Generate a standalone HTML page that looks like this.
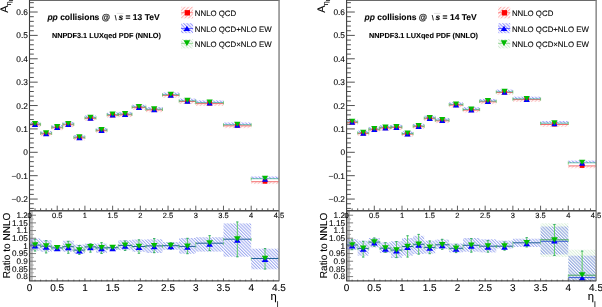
<!DOCTYPE html>
<html><head><meta charset="utf-8"><style>
html,body{margin:0;padding:0;background:#fff;width:602px;height:307px;overflow:hidden}
svg{display:block;font-family:"Liberation Sans",sans-serif}
text{stroke:#000;stroke-width:0.1px;text-rendering:geometricPrecision}
</style></head><body>
<svg width="602" height="307" viewBox="0 0 602 307">
<defs><clipPath id="cu29"><rect x="29.5" y="0.5" width="249.4" height="209.3"/></clipPath><clipPath id="cl29"><rect x="29.5" y="209.8" width="249.4" height="71.39999999999998"/></clipPath><clipPath id="cu346"><rect x="346.6" y="0.5" width="249.4" height="209.3"/></clipPath><clipPath id="cl346"><rect x="346.6" y="209.8" width="249.4" height="71.39999999999998"/></clipPath>
<pattern id="hr" width="2.6" height="2.6" patternUnits="userSpaceOnUse" patternTransform="rotate(45)"><line x1="0.6" y1="0" x2="0.6" y2="2.6" stroke="#f88" stroke-width="0.7"/></pattern>
<pattern id="hr2" width="2.6" height="2.6" patternUnits="userSpaceOnUse" patternTransform="rotate(45)"><line x1="0.6" y1="0" x2="0.6" y2="2.6" stroke="#f9a0a0" stroke-width="0.6"/></pattern>
<pattern id="hb" width="2.4" height="2.4" patternUnits="userSpaceOnUse" patternTransform="rotate(-45)"><line x1="0.6" y1="0" x2="0.6" y2="2.4" stroke="#77f" stroke-width="0.8"/></pattern>
<pattern id="hg" width="2.4" height="2.4" patternUnits="userSpaceOnUse" patternTransform="rotate(-45)"><line x1="0.6" y1="0" x2="0.6" y2="2.4" stroke="#bdb" stroke-width="0.7"/></pattern>
<pattern id="hb2" width="2.25" height="2.25" patternUnits="userSpaceOnUse" patternTransform="rotate(-45)"><line x1="0.6" y1="0" x2="0.6" y2="2.25" stroke="#6476e8" stroke-width="0.65"/></pattern>
<pattern id="hg2" width="2.25" height="2.25" patternUnits="userSpaceOnUse" patternTransform="rotate(-45)"><line x1="0.6" y1="0" x2="0.6" y2="2.25" stroke="#bfe6bf" stroke-width="0.6"/></pattern>
</defs>
<rect width="602" height="307" fill="#fff"/>
<g opacity="0.999">
<g clip-path="url(#cu29)">
<rect x="29.50" y="124.90" width="11.08" height="2.3" fill="url(#hr2)"/>
<rect x="29.50" y="121.90" width="11.08" height="2.4" fill="url(#hb)"/>
<line x1="29.50" y1="124.80" x2="40.58" y2="124.80" stroke="#e33" stroke-width="0.7"/>
<line x1="29.50" y1="124.10" x2="40.58" y2="124.10" stroke="#3a8" stroke-width="0.7"/>
<line x1="29.50" y1="122.70" x2="29.50" y2="125.90" stroke="#5b5" stroke-width="0.7"/>
<line x1="40.58" y1="122.70" x2="40.58" y2="125.90" stroke="#5b5" stroke-width="0.7"/>
<rect x="32.74" y="122.20" width="4.60" height="4.60" fill="#f00"/>
<path d="M31.89,127.10L38.19,127.10L35.04,122.10Z" fill="#00f"/>
<path d="M31.89,121.10L38.19,121.10L35.04,126.10Z" fill="#0b0"/>
<rect x="40.58" y="134.00" width="11.08" height="2.3" fill="url(#hr2)"/>
<rect x="40.58" y="131.00" width="11.08" height="2.4" fill="url(#hb)"/>
<line x1="40.58" y1="133.90" x2="51.67" y2="133.90" stroke="#e33" stroke-width="0.7"/>
<line x1="40.58" y1="133.20" x2="51.67" y2="133.20" stroke="#3a8" stroke-width="0.7"/>
<line x1="40.58" y1="131.80" x2="40.58" y2="135.00" stroke="#5b5" stroke-width="0.7"/>
<line x1="51.67" y1="131.80" x2="51.67" y2="135.00" stroke="#5b5" stroke-width="0.7"/>
<rect x="43.83" y="131.30" width="4.60" height="4.60" fill="#f00"/>
<path d="M42.98,136.20L49.28,136.20L46.13,131.20Z" fill="#00f"/>
<path d="M42.98,130.20L49.28,130.20L46.13,135.20Z" fill="#0b0"/>
<rect x="51.67" y="127.90" width="11.08" height="2.3" fill="url(#hr2)"/>
<rect x="51.67" y="124.90" width="11.08" height="2.4" fill="url(#hb)"/>
<line x1="51.67" y1="127.80" x2="62.75" y2="127.80" stroke="#e33" stroke-width="0.7"/>
<line x1="51.67" y1="127.10" x2="62.75" y2="127.10" stroke="#3a8" stroke-width="0.7"/>
<line x1="51.67" y1="125.70" x2="51.67" y2="128.90" stroke="#5b5" stroke-width="0.7"/>
<line x1="62.75" y1="125.70" x2="62.75" y2="128.90" stroke="#5b5" stroke-width="0.7"/>
<rect x="54.91" y="125.20" width="4.60" height="4.60" fill="#f00"/>
<path d="M54.06,130.10L60.36,130.10L57.21,125.10Z" fill="#00f"/>
<path d="M54.06,124.10L60.36,124.10L57.21,129.10Z" fill="#0b0"/>
<rect x="62.75" y="124.90" width="11.08" height="2.3" fill="url(#hr2)"/>
<rect x="62.75" y="121.90" width="11.08" height="2.4" fill="url(#hb)"/>
<line x1="62.75" y1="124.80" x2="73.84" y2="124.80" stroke="#e33" stroke-width="0.7"/>
<line x1="62.75" y1="124.10" x2="73.84" y2="124.10" stroke="#3a8" stroke-width="0.7"/>
<line x1="62.75" y1="122.70" x2="62.75" y2="125.90" stroke="#5b5" stroke-width="0.7"/>
<line x1="73.84" y1="122.70" x2="73.84" y2="125.90" stroke="#5b5" stroke-width="0.7"/>
<rect x="66.00" y="122.20" width="4.60" height="4.60" fill="#f00"/>
<path d="M65.15,127.10L71.45,127.10L68.30,122.10Z" fill="#00f"/>
<path d="M65.15,121.10L71.45,121.10L68.30,126.10Z" fill="#0b0"/>
<rect x="73.84" y="138.00" width="11.08" height="2.3" fill="url(#hr2)"/>
<rect x="73.84" y="135.00" width="11.08" height="2.4" fill="url(#hb)"/>
<line x1="73.84" y1="137.90" x2="84.92" y2="137.90" stroke="#e33" stroke-width="0.7"/>
<line x1="73.84" y1="137.20" x2="84.92" y2="137.20" stroke="#3a8" stroke-width="0.7"/>
<line x1="73.84" y1="135.80" x2="73.84" y2="139.00" stroke="#5b5" stroke-width="0.7"/>
<line x1="84.92" y1="135.80" x2="84.92" y2="139.00" stroke="#5b5" stroke-width="0.7"/>
<rect x="77.08" y="135.30" width="4.60" height="4.60" fill="#f00"/>
<path d="M76.23,140.20L82.53,140.20L79.38,135.20Z" fill="#00f"/>
<path d="M76.23,134.20L82.53,134.20L79.38,139.20Z" fill="#0b0"/>
<rect x="84.92" y="118.50" width="11.08" height="2.3" fill="url(#hr2)"/>
<rect x="84.92" y="115.50" width="11.08" height="2.4" fill="url(#hb)"/>
<line x1="84.92" y1="118.40" x2="96.01" y2="118.40" stroke="#e33" stroke-width="0.7"/>
<line x1="84.92" y1="117.70" x2="96.01" y2="117.70" stroke="#3a8" stroke-width="0.7"/>
<line x1="84.92" y1="116.30" x2="84.92" y2="119.50" stroke="#5b5" stroke-width="0.7"/>
<line x1="96.01" y1="116.30" x2="96.01" y2="119.50" stroke="#5b5" stroke-width="0.7"/>
<rect x="88.16" y="115.80" width="4.60" height="4.60" fill="#f00"/>
<path d="M87.31,120.70L93.61,120.70L90.46,115.70Z" fill="#00f"/>
<path d="M87.31,114.70L93.61,114.70L90.46,119.70Z" fill="#0b0"/>
<rect x="96.01" y="130.80" width="11.08" height="2.3" fill="url(#hr2)"/>
<rect x="96.01" y="127.80" width="11.08" height="2.4" fill="url(#hb)"/>
<line x1="96.01" y1="130.70" x2="107.09" y2="130.70" stroke="#e33" stroke-width="0.7"/>
<line x1="96.01" y1="130.00" x2="107.09" y2="130.00" stroke="#3a8" stroke-width="0.7"/>
<line x1="96.01" y1="128.60" x2="96.01" y2="131.80" stroke="#5b5" stroke-width="0.7"/>
<line x1="107.09" y1="128.60" x2="107.09" y2="131.80" stroke="#5b5" stroke-width="0.7"/>
<rect x="99.25" y="128.10" width="4.60" height="4.60" fill="#f00"/>
<path d="M98.40,133.00L104.70,133.00L101.55,128.00Z" fill="#00f"/>
<path d="M98.40,127.00L104.70,127.00L101.55,132.00Z" fill="#0b0"/>
<rect x="107.09" y="115.40" width="11.08" height="2.3" fill="url(#hr2)"/>
<rect x="107.09" y="112.40" width="11.08" height="2.4" fill="url(#hb)"/>
<line x1="107.09" y1="115.30" x2="118.18" y2="115.30" stroke="#e33" stroke-width="0.7"/>
<line x1="107.09" y1="114.60" x2="118.18" y2="114.60" stroke="#3a8" stroke-width="0.7"/>
<line x1="107.09" y1="113.20" x2="107.09" y2="116.40" stroke="#5b5" stroke-width="0.7"/>
<line x1="118.18" y1="113.20" x2="118.18" y2="116.40" stroke="#5b5" stroke-width="0.7"/>
<rect x="110.33" y="112.70" width="4.60" height="4.60" fill="#f00"/>
<path d="M109.48,117.60L115.78,117.60L112.63,112.60Z" fill="#00f"/>
<path d="M109.48,111.60L115.78,111.60L112.63,116.60Z" fill="#0b0"/>
<rect x="118.18" y="114.90" width="13.86" height="2.3" fill="url(#hr2)"/>
<rect x="118.18" y="111.90" width="13.86" height="2.4" fill="url(#hb)"/>
<line x1="118.18" y1="114.80" x2="132.03" y2="114.80" stroke="#e33" stroke-width="0.7"/>
<line x1="118.18" y1="114.10" x2="132.03" y2="114.10" stroke="#3a8" stroke-width="0.7"/>
<line x1="118.18" y1="112.70" x2="118.18" y2="115.90" stroke="#5b5" stroke-width="0.7"/>
<line x1="132.03" y1="112.70" x2="132.03" y2="115.90" stroke="#5b5" stroke-width="0.7"/>
<rect x="122.80" y="112.20" width="4.60" height="4.60" fill="#f00"/>
<path d="M121.95,117.10L128.25,117.10L125.10,112.10Z" fill="#00f"/>
<path d="M121.95,111.10L128.25,111.10L125.10,116.10Z" fill="#0b0"/>
<rect x="132.03" y="107.70" width="13.86" height="2.3" fill="url(#hr2)"/>
<rect x="132.03" y="104.70" width="13.86" height="2.4" fill="url(#hb)"/>
<line x1="132.03" y1="107.60" x2="145.89" y2="107.60" stroke="#e33" stroke-width="0.7"/>
<line x1="132.03" y1="106.90" x2="145.89" y2="106.90" stroke="#3a8" stroke-width="0.7"/>
<line x1="132.03" y1="105.50" x2="132.03" y2="108.70" stroke="#5b5" stroke-width="0.7"/>
<line x1="145.89" y1="105.50" x2="145.89" y2="108.70" stroke="#5b5" stroke-width="0.7"/>
<rect x="136.66" y="105.00" width="4.60" height="4.60" fill="#f00"/>
<path d="M135.81,109.90L142.11,109.90L138.96,104.90Z" fill="#00f"/>
<path d="M135.81,103.90L142.11,103.90L138.96,108.90Z" fill="#0b0"/>
<rect x="145.89" y="110.00" width="16.63" height="2.3" fill="url(#hr2)"/>
<rect x="145.89" y="107.00" width="16.63" height="2.4" fill="url(#hb)"/>
<line x1="145.89" y1="109.90" x2="162.51" y2="109.90" stroke="#e33" stroke-width="0.7"/>
<line x1="145.89" y1="109.20" x2="162.51" y2="109.20" stroke="#3a8" stroke-width="0.7"/>
<line x1="145.89" y1="107.80" x2="145.89" y2="111.00" stroke="#5b5" stroke-width="0.7"/>
<line x1="162.51" y1="107.80" x2="162.51" y2="111.00" stroke="#5b5" stroke-width="0.7"/>
<rect x="151.90" y="107.30" width="4.60" height="4.60" fill="#f00"/>
<path d="M151.05,112.20L157.35,112.20L154.20,107.20Z" fill="#00f"/>
<path d="M151.05,106.20L157.35,106.20L154.20,111.20Z" fill="#0b0"/>
<rect x="162.51" y="95.50" width="16.63" height="2.3" fill="url(#hr2)"/>
<rect x="162.51" y="92.50" width="16.63" height="2.4" fill="url(#hb)"/>
<line x1="162.51" y1="95.40" x2="179.14" y2="95.40" stroke="#e33" stroke-width="0.7"/>
<line x1="162.51" y1="94.70" x2="179.14" y2="94.70" stroke="#3a8" stroke-width="0.7"/>
<line x1="162.51" y1="93.30" x2="162.51" y2="96.50" stroke="#5b5" stroke-width="0.7"/>
<line x1="179.14" y1="93.30" x2="179.14" y2="96.50" stroke="#5b5" stroke-width="0.7"/>
<rect x="168.53" y="92.80" width="4.60" height="4.60" fill="#f00"/>
<path d="M167.68,97.70L173.98,97.70L170.83,92.70Z" fill="#00f"/>
<path d="M167.68,91.70L173.98,91.70L170.83,96.70Z" fill="#0b0"/>
<rect x="179.14" y="101.60" width="16.63" height="2.3" fill="url(#hr2)"/>
<rect x="179.14" y="98.60" width="16.63" height="2.4" fill="url(#hb)"/>
<line x1="179.14" y1="101.50" x2="195.77" y2="101.50" stroke="#e33" stroke-width="0.7"/>
<line x1="179.14" y1="100.80" x2="195.77" y2="100.80" stroke="#3a8" stroke-width="0.7"/>
<line x1="179.14" y1="99.40" x2="179.14" y2="102.60" stroke="#5b5" stroke-width="0.7"/>
<line x1="195.77" y1="99.40" x2="195.77" y2="102.60" stroke="#5b5" stroke-width="0.7"/>
<rect x="185.15" y="98.90" width="4.60" height="4.60" fill="#f00"/>
<path d="M184.30,103.80L190.60,103.80L187.45,98.80Z" fill="#00f"/>
<path d="M184.30,97.80L190.60,97.80L187.45,102.80Z" fill="#0b0"/>
<rect x="195.77" y="103.70" width="27.71" height="2.3" fill="url(#hr2)"/>
<rect x="195.77" y="100.40" width="27.71" height="2.4" fill="url(#hb)"/>
<line x1="195.77" y1="103.60" x2="223.48" y2="103.60" stroke="#e33" stroke-width="0.7"/>
<line x1="195.77" y1="102.60" x2="223.48" y2="102.60" stroke="#3a8" stroke-width="0.7"/>
<line x1="195.77" y1="101.20" x2="195.77" y2="104.40" stroke="#5b5" stroke-width="0.7"/>
<line x1="223.48" y1="101.20" x2="223.48" y2="104.40" stroke="#5b5" stroke-width="0.7"/>
<rect x="207.32" y="101.00" width="4.60" height="4.60" fill="#f00"/>
<path d="M206.47,105.60L212.77,105.60L209.62,100.60Z" fill="#00f"/>
<path d="M206.47,99.60L212.77,99.60L209.62,104.60Z" fill="#0b0"/>
<rect x="223.48" y="125.90" width="27.71" height="2.3" fill="url(#hr2)"/>
<rect x="223.48" y="122.50" width="27.71" height="2.4" fill="url(#hb)"/>
<line x1="223.48" y1="125.80" x2="251.19" y2="125.80" stroke="#e33" stroke-width="0.7"/>
<line x1="223.48" y1="124.70" x2="251.19" y2="124.70" stroke="#3a8" stroke-width="0.7"/>
<line x1="223.48" y1="123.30" x2="223.48" y2="126.50" stroke="#5b5" stroke-width="0.7"/>
<line x1="251.19" y1="123.30" x2="251.19" y2="126.50" stroke="#5b5" stroke-width="0.7"/>
<rect x="235.03" y="123.20" width="4.60" height="4.60" fill="#f00"/>
<path d="M234.18,127.70L240.48,127.70L237.33,122.70Z" fill="#00f"/>
<path d="M234.18,121.70L240.48,121.70L237.33,126.70Z" fill="#0b0"/>
<rect x="251.19" y="181.80" width="27.71" height="2.3" fill="url(#hr2)"/>
<rect x="251.19" y="176.50" width="27.71" height="2.4" fill="url(#hb)"/>
<line x1="251.19" y1="181.70" x2="278.90" y2="181.70" stroke="#e33" stroke-width="0.7"/>
<line x1="251.19" y1="178.70" x2="278.90" y2="178.70" stroke="#3a8" stroke-width="0.7"/>
<line x1="251.19" y1="177.30" x2="251.19" y2="180.50" stroke="#5b5" stroke-width="0.7"/>
<line x1="278.90" y1="177.30" x2="278.90" y2="180.50" stroke="#5b5" stroke-width="0.7"/>
<rect x="262.74" y="179.10" width="4.60" height="4.60" fill="#f00"/>
<path d="M261.89,181.70L268.19,181.70L265.04,176.70Z" fill="#00f"/>
<path d="M261.89,175.70L268.19,175.70L265.04,180.70Z" fill="#0b0"/>
</g>
<rect x="29.5" y="210.7" width="3.3" height="70.5" fill="#bcbcbc"/>
<g clip-path="url(#cl29)">
<rect x="29.50" y="238.50" width="11.08" height="12.20" fill="url(#hb2)"/>
<line x1="29.50" y1="245.10" x2="40.58" y2="245.10" stroke="#22609a" stroke-width="1.0"/>
<line x1="29.50" y1="243.90" x2="29.50" y2="246.90" stroke="#5c5" stroke-width="0.6"/>
<line x1="40.58" y1="243.90" x2="40.58" y2="246.90" stroke="#5c5" stroke-width="0.6"/>
<line x1="35.04" y1="238.90" x2="35.04" y2="251.30" stroke="#4c4" stroke-width="0.8"/>
<line x1="33.84" y1="239.20" x2="36.24" y2="239.20" stroke="#3a6" stroke-width="1"/>
<line x1="33.84" y1="251.00" x2="36.24" y2="251.00" stroke="#3a6" stroke-width="1"/>
<path d="M31.64,248.55L38.44,248.55L35.04,243.35Z" fill="#00f"/>
<path d="M31.64,242.25L38.44,242.25L35.04,247.45Z" fill="#0b0"/>
<rect x="40.58" y="240.20" width="11.08" height="11.60" fill="url(#hb2)"/>
<line x1="40.58" y1="246.20" x2="51.67" y2="246.20" stroke="#22609a" stroke-width="1.0"/>
<line x1="40.58" y1="245.00" x2="40.58" y2="248.00" stroke="#5c5" stroke-width="0.6"/>
<line x1="51.67" y1="245.00" x2="51.67" y2="248.00" stroke="#5c5" stroke-width="0.6"/>
<line x1="46.13" y1="240.40" x2="46.13" y2="253.20" stroke="#4c4" stroke-width="0.8"/>
<line x1="44.93" y1="240.70" x2="47.33" y2="240.70" stroke="#3a6" stroke-width="1"/>
<line x1="44.93" y1="252.90" x2="47.33" y2="252.90" stroke="#3a6" stroke-width="1"/>
<path d="M42.73,249.65L49.53,249.65L46.13,244.45Z" fill="#00f"/>
<path d="M42.73,243.35L49.53,243.35L46.13,248.55Z" fill="#0b0"/>
<rect x="51.67" y="245.70" width="11.08" height="5.00" fill="url(#hb2)"/>
<line x1="51.67" y1="247.90" x2="62.75" y2="247.90" stroke="#22609a" stroke-width="1.0"/>
<line x1="51.67" y1="246.70" x2="51.67" y2="249.70" stroke="#5c5" stroke-width="0.6"/>
<line x1="62.75" y1="246.70" x2="62.75" y2="249.70" stroke="#5c5" stroke-width="0.6"/>
<line x1="57.21" y1="245.70" x2="57.21" y2="250.70" stroke="#4c4" stroke-width="0.8"/>
<line x1="56.01" y1="246.00" x2="58.41" y2="246.00" stroke="#3a6" stroke-width="1"/>
<line x1="56.01" y1="250.40" x2="58.41" y2="250.40" stroke="#3a6" stroke-width="1"/>
<path d="M53.81,251.35L60.61,251.35L57.21,246.15Z" fill="#00f"/>
<path d="M53.81,245.05L60.61,245.05L57.21,250.25Z" fill="#0b0"/>
<rect x="62.75" y="240.70" width="11.08" height="11.10" fill="url(#hb2)"/>
<line x1="62.75" y1="246.70" x2="73.84" y2="246.70" stroke="#22609a" stroke-width="1.0"/>
<line x1="62.75" y1="245.50" x2="62.75" y2="248.50" stroke="#5c5" stroke-width="0.6"/>
<line x1="73.84" y1="245.50" x2="73.84" y2="248.50" stroke="#5c5" stroke-width="0.6"/>
<line x1="68.30" y1="241.00" x2="68.30" y2="253.50" stroke="#4c4" stroke-width="0.8"/>
<line x1="67.10" y1="241.30" x2="69.50" y2="241.30" stroke="#3a6" stroke-width="1"/>
<line x1="67.10" y1="253.20" x2="69.50" y2="253.20" stroke="#3a6" stroke-width="1"/>
<path d="M64.90,250.15L71.70,250.15L68.30,244.95Z" fill="#00f"/>
<path d="M64.90,243.85L71.70,243.85L68.30,249.05Z" fill="#0b0"/>
<rect x="73.84" y="244.60" width="11.08" height="9.40" fill="url(#hb2)"/>
<line x1="73.84" y1="250.10" x2="84.92" y2="250.10" stroke="#22609a" stroke-width="1.0"/>
<line x1="73.84" y1="248.90" x2="73.84" y2="251.90" stroke="#5c5" stroke-width="0.6"/>
<line x1="84.92" y1="248.90" x2="84.92" y2="251.90" stroke="#5c5" stroke-width="0.6"/>
<line x1="79.38" y1="245.20" x2="79.38" y2="254.60" stroke="#4c4" stroke-width="0.8"/>
<line x1="78.18" y1="245.50" x2="80.58" y2="245.50" stroke="#3a6" stroke-width="1"/>
<line x1="78.18" y1="254.30" x2="80.58" y2="254.30" stroke="#3a6" stroke-width="1"/>
<path d="M75.98,253.55L82.78,253.55L79.38,248.35Z" fill="#00f"/>
<path d="M75.98,247.25L82.78,247.25L79.38,252.45Z" fill="#0b0"/>
<rect x="84.92" y="243.50" width="11.08" height="6.50" fill="url(#hb2)"/>
<line x1="84.92" y1="246.90" x2="96.01" y2="246.90" stroke="#22609a" stroke-width="1.0"/>
<line x1="84.92" y1="245.70" x2="84.92" y2="248.70" stroke="#5c5" stroke-width="0.6"/>
<line x1="96.01" y1="245.70" x2="96.01" y2="248.70" stroke="#5c5" stroke-width="0.6"/>
<line x1="90.46" y1="243.50" x2="90.46" y2="252.40" stroke="#4c4" stroke-width="0.8"/>
<line x1="89.26" y1="243.80" x2="91.66" y2="243.80" stroke="#3a6" stroke-width="1"/>
<line x1="89.26" y1="252.10" x2="91.66" y2="252.10" stroke="#3a6" stroke-width="1"/>
<path d="M87.06,250.35L93.86,250.35L90.46,245.15Z" fill="#00f"/>
<path d="M87.06,244.05L93.86,244.05L90.46,249.25Z" fill="#0b0"/>
<rect x="96.01" y="243.50" width="11.08" height="9.40" fill="url(#hb2)"/>
<line x1="96.01" y1="247.90" x2="107.09" y2="247.90" stroke="#22609a" stroke-width="1.0"/>
<line x1="96.01" y1="246.70" x2="96.01" y2="249.70" stroke="#5c5" stroke-width="0.6"/>
<line x1="107.09" y1="246.70" x2="107.09" y2="249.70" stroke="#5c5" stroke-width="0.6"/>
<line x1="101.55" y1="242.40" x2="101.55" y2="253.70" stroke="#4c4" stroke-width="0.8"/>
<line x1="100.35" y1="242.70" x2="102.75" y2="242.70" stroke="#3a6" stroke-width="1"/>
<line x1="100.35" y1="253.40" x2="102.75" y2="253.40" stroke="#3a6" stroke-width="1"/>
<path d="M98.15,251.35L104.95,251.35L101.55,246.15Z" fill="#00f"/>
<path d="M98.15,245.05L104.95,245.05L101.55,250.25Z" fill="#0b0"/>
<rect x="107.09" y="246.00" width="11.08" height="4.00" fill="url(#hb2)"/>
<line x1="107.09" y1="247.70" x2="118.18" y2="247.70" stroke="#22609a" stroke-width="1.0"/>
<line x1="107.09" y1="246.50" x2="107.09" y2="249.50" stroke="#5c5" stroke-width="0.6"/>
<line x1="118.18" y1="246.50" x2="118.18" y2="249.50" stroke="#5c5" stroke-width="0.6"/>
<line x1="112.63" y1="246.00" x2="112.63" y2="250.00" stroke="#4c4" stroke-width="0.8"/>
<line x1="111.43" y1="246.30" x2="113.83" y2="246.30" stroke="#3a6" stroke-width="1"/>
<line x1="111.43" y1="249.70" x2="113.83" y2="249.70" stroke="#3a6" stroke-width="1"/>
<path d="M109.23,251.15L116.03,251.15L112.63,245.95Z" fill="#00f"/>
<path d="M109.23,244.85L116.03,244.85L112.63,250.05Z" fill="#0b0"/>
<rect x="118.18" y="240.20" width="13.86" height="9.90" fill="url(#hb2)"/>
<line x1="118.18" y1="245.40" x2="132.03" y2="245.40" stroke="#22609a" stroke-width="1.0"/>
<line x1="118.18" y1="244.20" x2="118.18" y2="247.20" stroke="#5c5" stroke-width="0.6"/>
<line x1="132.03" y1="244.20" x2="132.03" y2="247.20" stroke="#5c5" stroke-width="0.6"/>
<line x1="125.10" y1="240.70" x2="125.10" y2="250.70" stroke="#4c4" stroke-width="0.8"/>
<line x1="123.90" y1="241.00" x2="126.30" y2="241.00" stroke="#3a6" stroke-width="1"/>
<line x1="123.90" y1="250.40" x2="126.30" y2="250.40" stroke="#3a6" stroke-width="1"/>
<path d="M121.70,248.85L128.50,248.85L125.10,243.65Z" fill="#00f"/>
<path d="M121.70,242.55L128.50,242.55L125.10,247.75Z" fill="#0b0"/>
<rect x="132.03" y="239.60" width="13.86" height="12.20" fill="url(#hb2)"/>
<line x1="132.03" y1="246.50" x2="145.89" y2="246.50" stroke="#22609a" stroke-width="1.0"/>
<line x1="132.03" y1="245.30" x2="132.03" y2="248.30" stroke="#5c5" stroke-width="0.6"/>
<line x1="145.89" y1="245.30" x2="145.89" y2="248.30" stroke="#5c5" stroke-width="0.6"/>
<line x1="138.96" y1="239.60" x2="138.96" y2="253.50" stroke="#4c4" stroke-width="0.8"/>
<line x1="137.76" y1="239.90" x2="140.16" y2="239.90" stroke="#3a6" stroke-width="1"/>
<line x1="137.76" y1="253.20" x2="140.16" y2="253.20" stroke="#3a6" stroke-width="1"/>
<path d="M135.56,249.95L142.36,249.95L138.96,244.75Z" fill="#00f"/>
<path d="M135.56,243.65L142.36,243.65L138.96,248.85Z" fill="#0b0"/>
<rect x="145.89" y="239.30" width="16.63" height="13.70" fill="url(#hb2)"/>
<line x1="145.89" y1="245.90" x2="162.51" y2="245.90" stroke="#22609a" stroke-width="1.0"/>
<line x1="145.89" y1="244.70" x2="145.89" y2="247.70" stroke="#5c5" stroke-width="0.6"/>
<line x1="162.51" y1="244.70" x2="162.51" y2="247.70" stroke="#5c5" stroke-width="0.6"/>
<line x1="154.20" y1="238.30" x2="154.20" y2="253.00" stroke="#4c4" stroke-width="0.8"/>
<line x1="153.00" y1="238.60" x2="155.40" y2="238.60" stroke="#3a6" stroke-width="1"/>
<line x1="153.00" y1="252.70" x2="155.40" y2="252.70" stroke="#3a6" stroke-width="1"/>
<path d="M150.80,249.35L157.60,249.35L154.20,244.15Z" fill="#00f"/>
<path d="M150.80,243.05L157.60,243.05L154.20,248.25Z" fill="#0b0"/>
<rect x="162.51" y="242.00" width="16.63" height="7.80" fill="url(#hb2)"/>
<line x1="162.51" y1="245.70" x2="179.14" y2="245.70" stroke="#22609a" stroke-width="1.0"/>
<line x1="162.51" y1="244.50" x2="162.51" y2="247.50" stroke="#5c5" stroke-width="0.6"/>
<line x1="179.14" y1="244.50" x2="179.14" y2="247.50" stroke="#5c5" stroke-width="0.6"/>
<line x1="170.83" y1="242.50" x2="170.83" y2="249.50" stroke="#4c4" stroke-width="0.8"/>
<line x1="169.63" y1="242.80" x2="172.03" y2="242.80" stroke="#3a6" stroke-width="1"/>
<line x1="169.63" y1="249.20" x2="172.03" y2="249.20" stroke="#3a6" stroke-width="1"/>
<path d="M167.43,249.15L174.23,249.15L170.83,243.95Z" fill="#00f"/>
<path d="M167.43,242.85L174.23,242.85L170.83,248.05Z" fill="#0b0"/>
<rect x="179.14" y="238.00" width="16.63" height="15.70" fill="url(#hb2)"/>
<line x1="179.14" y1="246.40" x2="195.77" y2="246.40" stroke="#22609a" stroke-width="1.0"/>
<line x1="179.14" y1="245.20" x2="179.14" y2="248.20" stroke="#5c5" stroke-width="0.6"/>
<line x1="195.77" y1="245.20" x2="195.77" y2="248.20" stroke="#5c5" stroke-width="0.6"/>
<line x1="187.45" y1="238.00" x2="187.45" y2="254.00" stroke="#4c4" stroke-width="0.8"/>
<line x1="186.25" y1="238.30" x2="188.65" y2="238.30" stroke="#3a6" stroke-width="1"/>
<line x1="186.25" y1="253.70" x2="188.65" y2="253.70" stroke="#3a6" stroke-width="1"/>
<path d="M184.05,249.85L190.85,249.85L187.45,244.65Z" fill="#00f"/>
<path d="M184.05,243.55L190.85,243.55L187.45,248.75Z" fill="#0b0"/>
<rect x="195.77" y="237.20" width="27.71" height="14.40" fill="url(#hb2)"/>
<line x1="195.77" y1="243.20" x2="223.48" y2="243.20" stroke="#22609a" stroke-width="1.0"/>
<line x1="195.77" y1="242.00" x2="195.77" y2="245.00" stroke="#5c5" stroke-width="0.6"/>
<line x1="223.48" y1="242.00" x2="223.48" y2="245.00" stroke="#5c5" stroke-width="0.6"/>
<line x1="209.62" y1="235.40" x2="209.62" y2="250.90" stroke="#4c4" stroke-width="0.8"/>
<line x1="208.42" y1="235.70" x2="210.82" y2="235.70" stroke="#3a6" stroke-width="1"/>
<line x1="208.42" y1="250.60" x2="210.82" y2="250.60" stroke="#3a6" stroke-width="1"/>
<path d="M206.22,246.65L213.02,246.65L209.62,241.45Z" fill="#00f"/>
<path d="M206.22,240.35L213.02,240.35L209.62,245.55Z" fill="#0b0"/>
<rect x="223.48" y="223.40" width="27.71" height="33.30" fill="url(#hb2)"/>
<line x1="223.48" y1="239.20" x2="251.19" y2="239.20" stroke="#22609a" stroke-width="1.0"/>
<line x1="223.48" y1="238.00" x2="223.48" y2="241.00" stroke="#5c5" stroke-width="0.6"/>
<line x1="251.19" y1="238.00" x2="251.19" y2="241.00" stroke="#5c5" stroke-width="0.6"/>
<line x1="237.33" y1="221.70" x2="237.33" y2="257.10" stroke="#4c4" stroke-width="0.8"/>
<line x1="236.13" y1="222.00" x2="238.53" y2="222.00" stroke="#3a6" stroke-width="1"/>
<line x1="236.13" y1="256.80" x2="238.53" y2="256.80" stroke="#3a6" stroke-width="1"/>
<path d="M233.93,242.65L240.73,242.65L237.33,237.45Z" fill="#00f"/>
<path d="M233.93,236.35L240.73,236.35L237.33,241.55Z" fill="#0b0"/>
<rect x="251.19" y="248.70" width="27.71" height="20.60" fill="url(#hb2)"/>
<line x1="251.19" y1="258.50" x2="278.90" y2="258.50" stroke="#22609a" stroke-width="1.0"/>
<line x1="251.19" y1="257.30" x2="251.19" y2="260.30" stroke="#5c5" stroke-width="0.6"/>
<line x1="278.90" y1="257.30" x2="278.90" y2="260.30" stroke="#5c5" stroke-width="0.6"/>
<line x1="265.04" y1="248.30" x2="265.04" y2="269.30" stroke="#4c4" stroke-width="0.8"/>
<line x1="263.84" y1="248.60" x2="266.24" y2="248.60" stroke="#3a6" stroke-width="1"/>
<line x1="263.84" y1="269.00" x2="266.24" y2="269.00" stroke="#3a6" stroke-width="1"/>
<path d="M261.64,261.95L268.44,261.95L265.04,256.75Z" fill="#00f"/>
<path d="M261.64,255.65L268.44,255.65L265.04,260.85Z" fill="#0b0"/>
</g>
<rect x="29.0" y="0" width="250.4" height="1" fill="#6a6a6a"/>
<line x1="29.5" y1="0" x2="29.5" y2="281.2" stroke="#3c3c3c" stroke-width="1.1"/>
<line x1="279.04999999999995" y1="0" x2="279.04999999999995" y2="281.2" stroke="#808080" stroke-width="1.4"/>
<line x1="29.5" y1="210.7" x2="278.9" y2="210.7" stroke="#4a4a4a" stroke-width="1.6"/>
<line x1="29.5" y1="280.9" x2="278.9" y2="280.9" stroke="#4a4a4a" stroke-width="1.2"/>
<line x1="29.5" y1="208.41" x2="33.8" y2="208.41" stroke="#4a4a4a" stroke-width="0.95"/>
<line x1="29.5" y1="203.74" x2="33.8" y2="203.74" stroke="#4a4a4a" stroke-width="0.95"/>
<line x1="29.5" y1="199.06" x2="37.7" y2="199.06" stroke="#4a4a4a" stroke-width="0.95"/>
<line x1="29.5" y1="194.38" x2="33.8" y2="194.38" stroke="#4a4a4a" stroke-width="0.95"/>
<line x1="29.5" y1="189.71" x2="33.8" y2="189.71" stroke="#4a4a4a" stroke-width="0.95"/>
<line x1="29.5" y1="185.03" x2="33.8" y2="185.03" stroke="#4a4a4a" stroke-width="0.95"/>
<line x1="29.5" y1="180.36" x2="33.8" y2="180.36" stroke="#4a4a4a" stroke-width="0.95"/>
<line x1="29.5" y1="175.68" x2="37.7" y2="175.68" stroke="#4a4a4a" stroke-width="0.95"/>
<line x1="29.5" y1="171.00" x2="33.8" y2="171.00" stroke="#4a4a4a" stroke-width="0.95"/>
<line x1="29.5" y1="166.33" x2="33.8" y2="166.33" stroke="#4a4a4a" stroke-width="0.95"/>
<line x1="29.5" y1="161.65" x2="33.8" y2="161.65" stroke="#4a4a4a" stroke-width="0.95"/>
<line x1="29.5" y1="156.98" x2="33.8" y2="156.98" stroke="#4a4a4a" stroke-width="0.95"/>
<line x1="29.5" y1="152.30" x2="37.7" y2="152.30" stroke="#4a4a4a" stroke-width="0.95"/>
<line x1="29.5" y1="147.62" x2="33.8" y2="147.62" stroke="#4a4a4a" stroke-width="0.95"/>
<line x1="29.5" y1="142.95" x2="33.8" y2="142.95" stroke="#4a4a4a" stroke-width="0.95"/>
<line x1="29.5" y1="138.27" x2="33.8" y2="138.27" stroke="#4a4a4a" stroke-width="0.95"/>
<line x1="29.5" y1="133.60" x2="33.8" y2="133.60" stroke="#4a4a4a" stroke-width="0.95"/>
<line x1="29.5" y1="128.92" x2="37.7" y2="128.92" stroke="#4a4a4a" stroke-width="0.95"/>
<line x1="29.5" y1="124.24" x2="33.8" y2="124.24" stroke="#4a4a4a" stroke-width="0.95"/>
<line x1="29.5" y1="119.57" x2="33.8" y2="119.57" stroke="#4a4a4a" stroke-width="0.95"/>
<line x1="29.5" y1="114.89" x2="33.8" y2="114.89" stroke="#4a4a4a" stroke-width="0.95"/>
<line x1="29.5" y1="110.22" x2="33.8" y2="110.22" stroke="#4a4a4a" stroke-width="0.95"/>
<line x1="29.5" y1="105.54" x2="37.7" y2="105.54" stroke="#4a4a4a" stroke-width="0.95"/>
<line x1="29.5" y1="100.86" x2="33.8" y2="100.86" stroke="#4a4a4a" stroke-width="0.95"/>
<line x1="29.5" y1="96.19" x2="33.8" y2="96.19" stroke="#4a4a4a" stroke-width="0.95"/>
<line x1="29.5" y1="91.51" x2="33.8" y2="91.51" stroke="#4a4a4a" stroke-width="0.95"/>
<line x1="29.5" y1="86.84" x2="33.8" y2="86.84" stroke="#4a4a4a" stroke-width="0.95"/>
<line x1="29.5" y1="82.16" x2="37.7" y2="82.16" stroke="#4a4a4a" stroke-width="0.95"/>
<line x1="29.5" y1="77.48" x2="33.8" y2="77.48" stroke="#4a4a4a" stroke-width="0.95"/>
<line x1="29.5" y1="72.81" x2="33.8" y2="72.81" stroke="#4a4a4a" stroke-width="0.95"/>
<line x1="29.5" y1="68.13" x2="33.8" y2="68.13" stroke="#4a4a4a" stroke-width="0.95"/>
<line x1="29.5" y1="63.46" x2="33.8" y2="63.46" stroke="#4a4a4a" stroke-width="0.95"/>
<line x1="29.5" y1="58.78" x2="37.7" y2="58.78" stroke="#4a4a4a" stroke-width="0.95"/>
<line x1="29.5" y1="54.10" x2="33.8" y2="54.10" stroke="#4a4a4a" stroke-width="0.95"/>
<line x1="29.5" y1="49.43" x2="33.8" y2="49.43" stroke="#4a4a4a" stroke-width="0.95"/>
<line x1="29.5" y1="44.75" x2="33.8" y2="44.75" stroke="#4a4a4a" stroke-width="0.95"/>
<line x1="29.5" y1="40.08" x2="33.8" y2="40.08" stroke="#4a4a4a" stroke-width="0.95"/>
<line x1="29.5" y1="35.40" x2="37.7" y2="35.40" stroke="#4a4a4a" stroke-width="0.95"/>
<line x1="29.5" y1="30.72" x2="33.8" y2="30.72" stroke="#4a4a4a" stroke-width="0.95"/>
<line x1="29.5" y1="26.05" x2="33.8" y2="26.05" stroke="#4a4a4a" stroke-width="0.95"/>
<line x1="29.5" y1="21.37" x2="33.8" y2="21.37" stroke="#4a4a4a" stroke-width="0.95"/>
<line x1="29.5" y1="16.70" x2="33.8" y2="16.70" stroke="#4a4a4a" stroke-width="0.95"/>
<line x1="29.5" y1="12.02" x2="37.7" y2="12.02" stroke="#4a4a4a" stroke-width="0.95"/>
<line x1="29.5" y1="7.34" x2="33.8" y2="7.34" stroke="#4a4a4a" stroke-width="0.95"/>
<line x1="29.5" y1="2.67" x2="33.8" y2="2.67" stroke="#4a4a4a" stroke-width="0.95"/>
<line x1="35.04" y1="210.7" x2="35.04" y2="208.29999999999998" stroke="#4a4a4a" stroke-width="0.9"/>
<line x1="40.58" y1="210.7" x2="40.58" y2="208.29999999999998" stroke="#4a4a4a" stroke-width="0.9"/>
<line x1="46.13" y1="210.7" x2="46.13" y2="208.29999999999998" stroke="#4a4a4a" stroke-width="0.9"/>
<line x1="51.67" y1="210.7" x2="51.67" y2="208.29999999999998" stroke="#4a4a4a" stroke-width="0.9"/>
<line x1="57.21" y1="210.7" x2="57.21" y2="205.7" stroke="#4a4a4a" stroke-width="0.9"/>
<line x1="62.75" y1="210.7" x2="62.75" y2="208.29999999999998" stroke="#4a4a4a" stroke-width="0.9"/>
<line x1="68.30" y1="210.7" x2="68.30" y2="208.29999999999998" stroke="#4a4a4a" stroke-width="0.9"/>
<line x1="73.84" y1="210.7" x2="73.84" y2="208.29999999999998" stroke="#4a4a4a" stroke-width="0.9"/>
<line x1="79.38" y1="210.7" x2="79.38" y2="208.29999999999998" stroke="#4a4a4a" stroke-width="0.9"/>
<line x1="84.92" y1="210.7" x2="84.92" y2="205.7" stroke="#4a4a4a" stroke-width="0.9"/>
<line x1="90.46" y1="210.7" x2="90.46" y2="208.29999999999998" stroke="#4a4a4a" stroke-width="0.9"/>
<line x1="96.01" y1="210.7" x2="96.01" y2="208.29999999999998" stroke="#4a4a4a" stroke-width="0.9"/>
<line x1="101.55" y1="210.7" x2="101.55" y2="208.29999999999998" stroke="#4a4a4a" stroke-width="0.9"/>
<line x1="107.09" y1="210.7" x2="107.09" y2="208.29999999999998" stroke="#4a4a4a" stroke-width="0.9"/>
<line x1="112.63" y1="210.7" x2="112.63" y2="205.7" stroke="#4a4a4a" stroke-width="0.9"/>
<line x1="118.18" y1="210.7" x2="118.18" y2="208.29999999999998" stroke="#4a4a4a" stroke-width="0.9"/>
<line x1="123.72" y1="210.7" x2="123.72" y2="208.29999999999998" stroke="#4a4a4a" stroke-width="0.9"/>
<line x1="129.26" y1="210.7" x2="129.26" y2="208.29999999999998" stroke="#4a4a4a" stroke-width="0.9"/>
<line x1="134.80" y1="210.7" x2="134.80" y2="208.29999999999998" stroke="#4a4a4a" stroke-width="0.9"/>
<line x1="140.34" y1="210.7" x2="140.34" y2="205.7" stroke="#4a4a4a" stroke-width="0.9"/>
<line x1="145.89" y1="210.7" x2="145.89" y2="208.29999999999998" stroke="#4a4a4a" stroke-width="0.9"/>
<line x1="151.43" y1="210.7" x2="151.43" y2="208.29999999999998" stroke="#4a4a4a" stroke-width="0.9"/>
<line x1="156.97" y1="210.7" x2="156.97" y2="208.29999999999998" stroke="#4a4a4a" stroke-width="0.9"/>
<line x1="162.51" y1="210.7" x2="162.51" y2="208.29999999999998" stroke="#4a4a4a" stroke-width="0.9"/>
<line x1="168.06" y1="210.7" x2="168.06" y2="205.7" stroke="#4a4a4a" stroke-width="0.9"/>
<line x1="173.60" y1="210.7" x2="173.60" y2="208.29999999999998" stroke="#4a4a4a" stroke-width="0.9"/>
<line x1="179.14" y1="210.7" x2="179.14" y2="208.29999999999998" stroke="#4a4a4a" stroke-width="0.9"/>
<line x1="184.68" y1="210.7" x2="184.68" y2="208.29999999999998" stroke="#4a4a4a" stroke-width="0.9"/>
<line x1="190.22" y1="210.7" x2="190.22" y2="208.29999999999998" stroke="#4a4a4a" stroke-width="0.9"/>
<line x1="195.77" y1="210.7" x2="195.77" y2="205.7" stroke="#4a4a4a" stroke-width="0.9"/>
<line x1="201.31" y1="210.7" x2="201.31" y2="208.29999999999998" stroke="#4a4a4a" stroke-width="0.9"/>
<line x1="206.85" y1="210.7" x2="206.85" y2="208.29999999999998" stroke="#4a4a4a" stroke-width="0.9"/>
<line x1="212.39" y1="210.7" x2="212.39" y2="208.29999999999998" stroke="#4a4a4a" stroke-width="0.9"/>
<line x1="217.94" y1="210.7" x2="217.94" y2="208.29999999999998" stroke="#4a4a4a" stroke-width="0.9"/>
<line x1="223.48" y1="210.7" x2="223.48" y2="205.7" stroke="#4a4a4a" stroke-width="0.9"/>
<line x1="229.02" y1="210.7" x2="229.02" y2="208.29999999999998" stroke="#4a4a4a" stroke-width="0.9"/>
<line x1="234.56" y1="210.7" x2="234.56" y2="208.29999999999998" stroke="#4a4a4a" stroke-width="0.9"/>
<line x1="240.10" y1="210.7" x2="240.10" y2="208.29999999999998" stroke="#4a4a4a" stroke-width="0.9"/>
<line x1="245.65" y1="210.7" x2="245.65" y2="208.29999999999998" stroke="#4a4a4a" stroke-width="0.9"/>
<line x1="251.19" y1="210.7" x2="251.19" y2="205.7" stroke="#4a4a4a" stroke-width="0.9"/>
<line x1="256.73" y1="210.7" x2="256.73" y2="208.29999999999998" stroke="#4a4a4a" stroke-width="0.9"/>
<line x1="262.27" y1="210.7" x2="262.27" y2="208.29999999999998" stroke="#4a4a4a" stroke-width="0.9"/>
<line x1="267.82" y1="210.7" x2="267.82" y2="208.29999999999998" stroke="#4a4a4a" stroke-width="0.9"/>
<line x1="273.36" y1="210.7" x2="273.36" y2="208.29999999999998" stroke="#4a4a4a" stroke-width="0.9"/>
<line x1="35.04" y1="281.2" x2="35.04" y2="279.7" stroke="#4a4a4a" stroke-width="0.9"/>
<line x1="40.58" y1="281.2" x2="40.58" y2="279.7" stroke="#4a4a4a" stroke-width="0.9"/>
<line x1="46.13" y1="281.2" x2="46.13" y2="279.7" stroke="#4a4a4a" stroke-width="0.9"/>
<line x1="51.67" y1="281.2" x2="51.67" y2="279.7" stroke="#4a4a4a" stroke-width="0.9"/>
<line x1="57.21" y1="281.2" x2="57.21" y2="278.4" stroke="#4a4a4a" stroke-width="0.9"/>
<line x1="62.75" y1="281.2" x2="62.75" y2="279.7" stroke="#4a4a4a" stroke-width="0.9"/>
<line x1="68.30" y1="281.2" x2="68.30" y2="279.7" stroke="#4a4a4a" stroke-width="0.9"/>
<line x1="73.84" y1="281.2" x2="73.84" y2="279.7" stroke="#4a4a4a" stroke-width="0.9"/>
<line x1="79.38" y1="281.2" x2="79.38" y2="279.7" stroke="#4a4a4a" stroke-width="0.9"/>
<line x1="84.92" y1="281.2" x2="84.92" y2="278.4" stroke="#4a4a4a" stroke-width="0.9"/>
<line x1="90.46" y1="281.2" x2="90.46" y2="279.7" stroke="#4a4a4a" stroke-width="0.9"/>
<line x1="96.01" y1="281.2" x2="96.01" y2="279.7" stroke="#4a4a4a" stroke-width="0.9"/>
<line x1="101.55" y1="281.2" x2="101.55" y2="279.7" stroke="#4a4a4a" stroke-width="0.9"/>
<line x1="107.09" y1="281.2" x2="107.09" y2="279.7" stroke="#4a4a4a" stroke-width="0.9"/>
<line x1="112.63" y1="281.2" x2="112.63" y2="278.4" stroke="#4a4a4a" stroke-width="0.9"/>
<line x1="118.18" y1="281.2" x2="118.18" y2="279.7" stroke="#4a4a4a" stroke-width="0.9"/>
<line x1="123.72" y1="281.2" x2="123.72" y2="279.7" stroke="#4a4a4a" stroke-width="0.9"/>
<line x1="129.26" y1="281.2" x2="129.26" y2="279.7" stroke="#4a4a4a" stroke-width="0.9"/>
<line x1="134.80" y1="281.2" x2="134.80" y2="279.7" stroke="#4a4a4a" stroke-width="0.9"/>
<line x1="140.34" y1="281.2" x2="140.34" y2="278.4" stroke="#4a4a4a" stroke-width="0.9"/>
<line x1="145.89" y1="281.2" x2="145.89" y2="279.7" stroke="#4a4a4a" stroke-width="0.9"/>
<line x1="151.43" y1="281.2" x2="151.43" y2="279.7" stroke="#4a4a4a" stroke-width="0.9"/>
<line x1="156.97" y1="281.2" x2="156.97" y2="279.7" stroke="#4a4a4a" stroke-width="0.9"/>
<line x1="162.51" y1="281.2" x2="162.51" y2="279.7" stroke="#4a4a4a" stroke-width="0.9"/>
<line x1="168.06" y1="281.2" x2="168.06" y2="278.4" stroke="#4a4a4a" stroke-width="0.9"/>
<line x1="173.60" y1="281.2" x2="173.60" y2="279.7" stroke="#4a4a4a" stroke-width="0.9"/>
<line x1="179.14" y1="281.2" x2="179.14" y2="279.7" stroke="#4a4a4a" stroke-width="0.9"/>
<line x1="184.68" y1="281.2" x2="184.68" y2="279.7" stroke="#4a4a4a" stroke-width="0.9"/>
<line x1="190.22" y1="281.2" x2="190.22" y2="279.7" stroke="#4a4a4a" stroke-width="0.9"/>
<line x1="195.77" y1="281.2" x2="195.77" y2="278.4" stroke="#4a4a4a" stroke-width="0.9"/>
<line x1="201.31" y1="281.2" x2="201.31" y2="279.7" stroke="#4a4a4a" stroke-width="0.9"/>
<line x1="206.85" y1="281.2" x2="206.85" y2="279.7" stroke="#4a4a4a" stroke-width="0.9"/>
<line x1="212.39" y1="281.2" x2="212.39" y2="279.7" stroke="#4a4a4a" stroke-width="0.9"/>
<line x1="217.94" y1="281.2" x2="217.94" y2="279.7" stroke="#4a4a4a" stroke-width="0.9"/>
<line x1="223.48" y1="281.2" x2="223.48" y2="278.4" stroke="#4a4a4a" stroke-width="0.9"/>
<line x1="229.02" y1="281.2" x2="229.02" y2="279.7" stroke="#4a4a4a" stroke-width="0.9"/>
<line x1="234.56" y1="281.2" x2="234.56" y2="279.7" stroke="#4a4a4a" stroke-width="0.9"/>
<line x1="240.10" y1="281.2" x2="240.10" y2="279.7" stroke="#4a4a4a" stroke-width="0.9"/>
<line x1="245.65" y1="281.2" x2="245.65" y2="279.7" stroke="#4a4a4a" stroke-width="0.9"/>
<line x1="251.19" y1="281.2" x2="251.19" y2="278.4" stroke="#4a4a4a" stroke-width="0.9"/>
<line x1="256.73" y1="281.2" x2="256.73" y2="279.7" stroke="#4a4a4a" stroke-width="0.9"/>
<line x1="262.27" y1="281.2" x2="262.27" y2="279.7" stroke="#4a4a4a" stroke-width="0.9"/>
<line x1="267.82" y1="281.2" x2="267.82" y2="279.7" stroke="#4a4a4a" stroke-width="0.9"/>
<line x1="273.36" y1="281.2" x2="273.36" y2="279.7" stroke="#4a4a4a" stroke-width="0.9"/>
<line x1="29.5" y1="276.58" x2="36.0" y2="276.58" stroke="#6a6a6a" stroke-width="0.85"/>
<line x1="29.5" y1="268.91" x2="36.0" y2="268.91" stroke="#6a6a6a" stroke-width="0.85"/>
<line x1="29.5" y1="261.24" x2="36.0" y2="261.24" stroke="#6a6a6a" stroke-width="0.85"/>
<line x1="29.5" y1="253.57" x2="36.0" y2="253.57" stroke="#6a6a6a" stroke-width="0.85"/>
<line x1="29.5" y1="245.90" x2="36.0" y2="245.90" stroke="#6a6a6a" stroke-width="0.85"/>
<line x1="29.5" y1="238.23" x2="36.0" y2="238.23" stroke="#6a6a6a" stroke-width="0.85"/>
<line x1="29.5" y1="230.56" x2="36.0" y2="230.56" stroke="#6a6a6a" stroke-width="0.85"/>
<line x1="29.5" y1="222.89" x2="36.0" y2="222.89" stroke="#6a6a6a" stroke-width="0.85"/>
<line x1="29.5" y1="215.22" x2="36.0" y2="215.22" stroke="#6a6a6a" stroke-width="0.85"/>
<line x1="29.5" y1="272.75" x2="33.9" y2="272.75" stroke="#999" stroke-width="0.8"/>
<line x1="29.5" y1="265.07" x2="33.9" y2="265.07" stroke="#999" stroke-width="0.8"/>
<line x1="29.5" y1="257.41" x2="33.9" y2="257.41" stroke="#999" stroke-width="0.8"/>
<line x1="29.5" y1="249.74" x2="33.9" y2="249.74" stroke="#999" stroke-width="0.8"/>
<line x1="29.5" y1="242.07" x2="33.9" y2="242.07" stroke="#999" stroke-width="0.8"/>
<line x1="29.5" y1="234.40" x2="33.9" y2="234.40" stroke="#999" stroke-width="0.8"/>
<line x1="29.5" y1="226.72" x2="33.9" y2="226.72" stroke="#999" stroke-width="0.8"/>
<line x1="29.5" y1="219.06" x2="33.9" y2="219.06" stroke="#999" stroke-width="0.8"/>
<text x="27.90" y="202.06" font-size="8.3" text-anchor="end">−0.2</text>
<text x="27.90" y="178.68" font-size="8.3" text-anchor="end">−0.1</text>
<text x="27.90" y="155.30" font-size="8.3" text-anchor="end">0</text>
<text x="27.90" y="131.92" font-size="8.3" text-anchor="end">0.1</text>
<text x="27.90" y="108.54" font-size="8.3" text-anchor="end">0.2</text>
<text x="27.90" y="85.16" font-size="8.3" text-anchor="end">0.3</text>
<text x="27.90" y="61.78" font-size="8.3" text-anchor="end">0.4</text>
<text x="27.90" y="38.40" font-size="8.3" text-anchor="end">0.5</text>
<text x="27.90" y="15.02" font-size="8.3" text-anchor="end">0.6</text>
<text x="29.50" y="218.0" font-size="7.5" text-anchor="middle">0</text>
<text x="57.21" y="218.0" font-size="7.5" text-anchor="middle">0.5</text>
<text x="84.92" y="218.0" font-size="7.5" text-anchor="middle">1</text>
<text x="112.63" y="218.0" font-size="7.5" text-anchor="middle">1.5</text>
<text x="140.34" y="218.0" font-size="7.5" text-anchor="middle">2</text>
<text x="168.06" y="218.0" font-size="7.5" text-anchor="middle">2.5</text>
<text x="195.77" y="218.0" font-size="7.5" text-anchor="middle">3</text>
<text x="223.48" y="218.0" font-size="7.5" text-anchor="middle">3.5</text>
<text x="251.19" y="218.0" font-size="7.5" text-anchor="middle">4</text>
<text x="278.90" y="218.0" font-size="7.5" text-anchor="middle">4.5</text>
<text x="27.90" y="279.48" font-size="8.2" text-anchor="end">0.8</text>
<text x="27.90" y="271.81" font-size="8.2" text-anchor="end">0.85</text>
<text x="27.90" y="264.14" font-size="8.2" text-anchor="end">0.9</text>
<text x="27.90" y="256.47" font-size="8.2" text-anchor="end">0.95</text>
<text x="27.90" y="248.80" font-size="8.2" text-anchor="end">1</text>
<text x="27.90" y="241.13" font-size="8.2" text-anchor="end">1.05</text>
<text x="27.90" y="233.46" font-size="8.2" text-anchor="end">1.1</text>
<text x="27.90" y="225.79" font-size="8.2" text-anchor="end">1.15</text>
<text x="27.90" y="218.12" font-size="8.2" text-anchor="end">1.2</text>
<text x="29.50" y="291.3" font-size="10" text-anchor="middle">0</text>
<text x="57.21" y="291.3" font-size="10" text-anchor="middle">0.5</text>
<text x="84.92" y="291.3" font-size="10" text-anchor="middle">1</text>
<text x="112.63" y="291.3" font-size="10" text-anchor="middle">1.5</text>
<text x="140.34" y="291.3" font-size="10" text-anchor="middle">2</text>
<text x="168.06" y="291.3" font-size="10" text-anchor="middle">2.5</text>
<text x="195.77" y="291.3" font-size="10" text-anchor="middle">3</text>
<text x="223.48" y="291.3" font-size="10" text-anchor="middle">3.5</text>
<text x="251.19" y="291.3" font-size="10" text-anchor="middle">4</text>
<text x="278.90" y="291.3" font-size="10" text-anchor="middle">4.5</text>
<text x="270.60" y="300.3" font-size="11.2">η<tspan font-size="8" dy="6.3">l</tspan></text>
<text transform="translate(9.50,278.2) rotate(-90)" font-size="10.1">Ratio to NNLO</text>
<text transform="translate(8.20,12.8) rotate(-90)" font-size="11">A<tspan font-size="7.5" dy="3">η</tspan><tspan font-size="5.5" dy="2">l</tspan></text>
<text x="47.40" y="20.0" font-size="8.5" font-weight="bold"><tspan font-style="italic">pp</tspan> collisions <tspan stroke-width="0.3" fill="#333" stroke="#333">@</tspan></text>
<text x="118.40" y="20.0" font-size="8.5" font-weight="bold"><tspan font-style="italic">s</tspan> = 13 TeV</text>
<line x1="115.10" y1="15.0" x2="116.30" y2="20.4" stroke="#333" stroke-width="1.0"/>
<line x1="116.80" y1="13.4" x2="123.50" y2="13.4" stroke="#ccc" stroke-width="0.6"/>
<text x="51.90" y="38.4" font-size="7.3" font-weight="bold">NNPDF3.1 LUXqed PDF (NNLO)</text>
<rect x="181.10" y="6.80" width="12" height="11.6" fill="url(#hr)"/>
<line x1="181.10" y1="12.70" x2="193.10" y2="12.70" stroke="#f66" stroke-width="0.7"/>
<rect x="184.70" y="10.10" width="5.3" height="5.4" fill="#f00"/>
<text x="194.80" y="15.90" font-size="7.85">NNLO QCD</text>
<rect x="181.10" y="23.20" width="12" height="10" fill="url(#hb)"/>
<line x1="181.10" y1="28.50" x2="193.10" y2="28.50" stroke="#33f" stroke-width="0.7"/>
<path d="M183.60,30.90L190.20,30.90L186.90,25.70Z" fill="#00f"/>
<text x="194.80" y="31.50" font-size="7.85">NNLO QCD+NLO EW</text>
<rect x="181.10" y="39.00" width="12" height="9.4" fill="url(#hg)"/>
<line x1="181.10" y1="43.40" x2="193.10" y2="43.40" stroke="#7c7" stroke-width="0.7"/>
<path d="M183.60,40.30L190.20,40.30L186.90,46.30Z" fill="#0b0"/>
<text x="194.80" y="46.80" font-size="7.85">NNLO QCD×NLO EW</text>
<g clip-path="url(#cu346)">
<rect x="346.60" y="122.60" width="11.08" height="2.3" fill="url(#hr2)"/>
<rect x="346.60" y="119.60" width="11.08" height="2.4" fill="url(#hb)"/>
<line x1="346.60" y1="122.50" x2="357.68" y2="122.50" stroke="#e33" stroke-width="0.7"/>
<line x1="346.60" y1="121.80" x2="357.68" y2="121.80" stroke="#3a8" stroke-width="0.7"/>
<line x1="346.60" y1="120.40" x2="346.60" y2="123.60" stroke="#5b5" stroke-width="0.7"/>
<line x1="357.68" y1="120.40" x2="357.68" y2="123.60" stroke="#5b5" stroke-width="0.7"/>
<rect x="349.84" y="119.90" width="4.60" height="4.60" fill="#f00"/>
<path d="M348.99,124.80L355.29,124.80L352.14,119.80Z" fill="#00f"/>
<path d="M348.99,118.80L355.29,118.80L352.14,123.80Z" fill="#0b0"/>
<rect x="357.68" y="133.60" width="11.08" height="2.3" fill="url(#hr2)"/>
<rect x="357.68" y="130.60" width="11.08" height="2.4" fill="url(#hb)"/>
<line x1="357.68" y1="133.50" x2="368.77" y2="133.50" stroke="#e33" stroke-width="0.7"/>
<line x1="357.68" y1="132.80" x2="368.77" y2="132.80" stroke="#3a8" stroke-width="0.7"/>
<line x1="357.68" y1="131.40" x2="357.68" y2="134.60" stroke="#5b5" stroke-width="0.7"/>
<line x1="368.77" y1="131.40" x2="368.77" y2="134.60" stroke="#5b5" stroke-width="0.7"/>
<rect x="360.93" y="130.90" width="4.60" height="4.60" fill="#f00"/>
<path d="M360.08,135.80L366.38,135.80L363.23,130.80Z" fill="#00f"/>
<path d="M360.08,129.80L366.38,129.80L363.23,134.80Z" fill="#0b0"/>
<rect x="368.77" y="129.90" width="11.08" height="2.3" fill="url(#hr2)"/>
<rect x="368.77" y="126.90" width="11.08" height="2.4" fill="url(#hb)"/>
<line x1="368.77" y1="129.80" x2="379.85" y2="129.80" stroke="#e33" stroke-width="0.7"/>
<line x1="368.77" y1="129.10" x2="379.85" y2="129.10" stroke="#3a8" stroke-width="0.7"/>
<line x1="368.77" y1="127.70" x2="368.77" y2="130.90" stroke="#5b5" stroke-width="0.7"/>
<line x1="379.85" y1="127.70" x2="379.85" y2="130.90" stroke="#5b5" stroke-width="0.7"/>
<rect x="372.01" y="127.20" width="4.60" height="4.60" fill="#f00"/>
<path d="M371.16,132.10L377.46,132.10L374.31,127.10Z" fill="#00f"/>
<path d="M371.16,126.10L377.46,126.10L374.31,131.10Z" fill="#0b0"/>
<rect x="379.85" y="128.20" width="11.08" height="2.3" fill="url(#hr2)"/>
<rect x="379.85" y="125.20" width="11.08" height="2.4" fill="url(#hb)"/>
<line x1="379.85" y1="128.10" x2="390.94" y2="128.10" stroke="#e33" stroke-width="0.7"/>
<line x1="379.85" y1="127.40" x2="390.94" y2="127.40" stroke="#3a8" stroke-width="0.7"/>
<line x1="379.85" y1="126.00" x2="379.85" y2="129.20" stroke="#5b5" stroke-width="0.7"/>
<line x1="390.94" y1="126.00" x2="390.94" y2="129.20" stroke="#5b5" stroke-width="0.7"/>
<rect x="383.10" y="125.50" width="4.60" height="4.60" fill="#f00"/>
<path d="M382.25,130.40L388.55,130.40L385.40,125.40Z" fill="#00f"/>
<path d="M382.25,124.40L388.55,124.40L385.40,129.40Z" fill="#0b0"/>
<rect x="390.94" y="127.70" width="11.08" height="2.3" fill="url(#hr2)"/>
<rect x="390.94" y="124.70" width="11.08" height="2.4" fill="url(#hb)"/>
<line x1="390.94" y1="127.60" x2="402.02" y2="127.60" stroke="#e33" stroke-width="0.7"/>
<line x1="390.94" y1="126.90" x2="402.02" y2="126.90" stroke="#3a8" stroke-width="0.7"/>
<line x1="390.94" y1="125.50" x2="390.94" y2="128.70" stroke="#5b5" stroke-width="0.7"/>
<line x1="402.02" y1="125.50" x2="402.02" y2="128.70" stroke="#5b5" stroke-width="0.7"/>
<rect x="394.18" y="125.00" width="4.60" height="4.60" fill="#f00"/>
<path d="M393.33,129.90L399.63,129.90L396.48,124.90Z" fill="#00f"/>
<path d="M393.33,123.90L399.63,123.90L396.48,128.90Z" fill="#0b0"/>
<rect x="402.02" y="134.30" width="11.08" height="2.3" fill="url(#hr2)"/>
<rect x="402.02" y="131.30" width="11.08" height="2.4" fill="url(#hb)"/>
<line x1="402.02" y1="134.20" x2="413.11" y2="134.20" stroke="#e33" stroke-width="0.7"/>
<line x1="402.02" y1="133.50" x2="413.11" y2="133.50" stroke="#3a8" stroke-width="0.7"/>
<line x1="402.02" y1="132.10" x2="402.02" y2="135.30" stroke="#5b5" stroke-width="0.7"/>
<line x1="413.11" y1="132.10" x2="413.11" y2="135.30" stroke="#5b5" stroke-width="0.7"/>
<rect x="405.26" y="131.60" width="4.60" height="4.60" fill="#f00"/>
<path d="M404.41,136.50L410.71,136.50L407.56,131.50Z" fill="#00f"/>
<path d="M404.41,130.50L410.71,130.50L407.56,135.50Z" fill="#0b0"/>
<rect x="413.11" y="126.80" width="11.08" height="2.3" fill="url(#hr2)"/>
<rect x="413.11" y="123.80" width="11.08" height="2.4" fill="url(#hb)"/>
<line x1="413.11" y1="126.70" x2="424.19" y2="126.70" stroke="#e33" stroke-width="0.7"/>
<line x1="413.11" y1="126.00" x2="424.19" y2="126.00" stroke="#3a8" stroke-width="0.7"/>
<line x1="413.11" y1="124.60" x2="413.11" y2="127.80" stroke="#5b5" stroke-width="0.7"/>
<line x1="424.19" y1="124.60" x2="424.19" y2="127.80" stroke="#5b5" stroke-width="0.7"/>
<rect x="416.35" y="124.10" width="4.60" height="4.60" fill="#f00"/>
<path d="M415.50,129.00L421.80,129.00L418.65,124.00Z" fill="#00f"/>
<path d="M415.50,123.00L421.80,123.00L418.65,128.00Z" fill="#0b0"/>
<rect x="424.19" y="118.70" width="11.08" height="2.3" fill="url(#hr2)"/>
<rect x="424.19" y="115.70" width="11.08" height="2.4" fill="url(#hb)"/>
<line x1="424.19" y1="118.60" x2="435.28" y2="118.60" stroke="#e33" stroke-width="0.7"/>
<line x1="424.19" y1="117.90" x2="435.28" y2="117.90" stroke="#3a8" stroke-width="0.7"/>
<line x1="424.19" y1="116.50" x2="424.19" y2="119.70" stroke="#5b5" stroke-width="0.7"/>
<line x1="435.28" y1="116.50" x2="435.28" y2="119.70" stroke="#5b5" stroke-width="0.7"/>
<rect x="427.43" y="116.00" width="4.60" height="4.60" fill="#f00"/>
<path d="M426.58,120.90L432.88,120.90L429.73,115.90Z" fill="#00f"/>
<path d="M426.58,114.90L432.88,114.90L429.73,119.90Z" fill="#0b0"/>
<rect x="435.28" y="120.90" width="13.86" height="2.3" fill="url(#hr2)"/>
<rect x="435.28" y="117.90" width="13.86" height="2.4" fill="url(#hb)"/>
<line x1="435.28" y1="120.80" x2="449.13" y2="120.80" stroke="#e33" stroke-width="0.7"/>
<line x1="435.28" y1="120.10" x2="449.13" y2="120.10" stroke="#3a8" stroke-width="0.7"/>
<line x1="435.28" y1="118.70" x2="435.28" y2="121.90" stroke="#5b5" stroke-width="0.7"/>
<line x1="449.13" y1="118.70" x2="449.13" y2="121.90" stroke="#5b5" stroke-width="0.7"/>
<rect x="439.90" y="118.20" width="4.60" height="4.60" fill="#f00"/>
<path d="M439.05,123.10L445.35,123.10L442.20,118.10Z" fill="#00f"/>
<path d="M439.05,117.10L445.35,117.10L442.20,122.10Z" fill="#0b0"/>
<rect x="449.13" y="105.20" width="13.86" height="2.3" fill="url(#hr2)"/>
<rect x="449.13" y="102.20" width="13.86" height="2.4" fill="url(#hb)"/>
<line x1="449.13" y1="105.10" x2="462.99" y2="105.10" stroke="#e33" stroke-width="0.7"/>
<line x1="449.13" y1="104.40" x2="462.99" y2="104.40" stroke="#3a8" stroke-width="0.7"/>
<line x1="449.13" y1="103.00" x2="449.13" y2="106.20" stroke="#5b5" stroke-width="0.7"/>
<line x1="462.99" y1="103.00" x2="462.99" y2="106.20" stroke="#5b5" stroke-width="0.7"/>
<rect x="453.76" y="102.50" width="4.60" height="4.60" fill="#f00"/>
<path d="M452.91,107.40L459.21,107.40L456.06,102.40Z" fill="#00f"/>
<path d="M452.91,101.40L459.21,101.40L456.06,106.40Z" fill="#0b0"/>
<rect x="462.99" y="110.20" width="16.63" height="2.3" fill="url(#hr2)"/>
<rect x="462.99" y="107.20" width="16.63" height="2.4" fill="url(#hb)"/>
<line x1="462.99" y1="110.10" x2="479.61" y2="110.10" stroke="#e33" stroke-width="0.7"/>
<line x1="462.99" y1="109.40" x2="479.61" y2="109.40" stroke="#3a8" stroke-width="0.7"/>
<line x1="462.99" y1="108.00" x2="462.99" y2="111.20" stroke="#5b5" stroke-width="0.7"/>
<line x1="479.61" y1="108.00" x2="479.61" y2="111.20" stroke="#5b5" stroke-width="0.7"/>
<rect x="469.00" y="107.50" width="4.60" height="4.60" fill="#f00"/>
<path d="M468.15,112.40L474.45,112.40L471.30,107.40Z" fill="#00f"/>
<path d="M468.15,106.40L474.45,106.40L471.30,111.40Z" fill="#0b0"/>
<rect x="479.61" y="101.90" width="16.63" height="2.3" fill="url(#hr2)"/>
<rect x="479.61" y="98.90" width="16.63" height="2.4" fill="url(#hb)"/>
<line x1="479.61" y1="101.80" x2="496.24" y2="101.80" stroke="#e33" stroke-width="0.7"/>
<line x1="479.61" y1="101.10" x2="496.24" y2="101.10" stroke="#3a8" stroke-width="0.7"/>
<line x1="479.61" y1="99.70" x2="479.61" y2="102.90" stroke="#5b5" stroke-width="0.7"/>
<line x1="496.24" y1="99.70" x2="496.24" y2="102.90" stroke="#5b5" stroke-width="0.7"/>
<rect x="485.63" y="99.20" width="4.60" height="4.60" fill="#f00"/>
<path d="M484.78,104.10L491.08,104.10L487.93,99.10Z" fill="#00f"/>
<path d="M484.78,98.10L491.08,98.10L487.93,103.10Z" fill="#0b0"/>
<rect x="496.24" y="92.60" width="16.63" height="2.3" fill="url(#hr2)"/>
<rect x="496.24" y="89.60" width="16.63" height="2.4" fill="url(#hb)"/>
<line x1="496.24" y1="92.50" x2="512.87" y2="92.50" stroke="#e33" stroke-width="0.7"/>
<line x1="496.24" y1="91.80" x2="512.87" y2="91.80" stroke="#3a8" stroke-width="0.7"/>
<line x1="496.24" y1="90.40" x2="496.24" y2="93.60" stroke="#5b5" stroke-width="0.7"/>
<line x1="512.87" y1="90.40" x2="512.87" y2="93.60" stroke="#5b5" stroke-width="0.7"/>
<rect x="502.25" y="89.90" width="4.60" height="4.60" fill="#f00"/>
<path d="M501.40,94.80L507.70,94.80L504.55,89.80Z" fill="#00f"/>
<path d="M501.40,88.80L507.70,88.80L504.55,93.80Z" fill="#0b0"/>
<rect x="512.87" y="99.70" width="27.71" height="2.3" fill="url(#hr2)"/>
<rect x="512.87" y="96.70" width="27.71" height="2.4" fill="url(#hb)"/>
<line x1="512.87" y1="99.60" x2="540.58" y2="99.60" stroke="#e33" stroke-width="0.7"/>
<line x1="512.87" y1="98.90" x2="540.58" y2="98.90" stroke="#3a8" stroke-width="0.7"/>
<line x1="512.87" y1="97.50" x2="512.87" y2="100.70" stroke="#5b5" stroke-width="0.7"/>
<line x1="540.58" y1="97.50" x2="540.58" y2="100.70" stroke="#5b5" stroke-width="0.7"/>
<rect x="524.42" y="97.00" width="4.60" height="4.60" fill="#f00"/>
<path d="M523.57,101.90L529.87,101.90L526.72,96.90Z" fill="#00f"/>
<path d="M523.57,95.90L529.87,95.90L526.72,100.90Z" fill="#0b0"/>
<rect x="540.58" y="124.60" width="27.71" height="2.3" fill="url(#hr2)"/>
<rect x="540.58" y="121.00" width="27.71" height="2.4" fill="url(#hb)"/>
<line x1="540.58" y1="124.50" x2="568.29" y2="124.50" stroke="#e33" stroke-width="0.7"/>
<line x1="540.58" y1="123.20" x2="568.29" y2="123.20" stroke="#3a8" stroke-width="0.7"/>
<line x1="540.58" y1="121.80" x2="540.58" y2="125.00" stroke="#5b5" stroke-width="0.7"/>
<line x1="568.29" y1="121.80" x2="568.29" y2="125.00" stroke="#5b5" stroke-width="0.7"/>
<rect x="552.13" y="121.90" width="4.60" height="4.60" fill="#f00"/>
<path d="M551.28,126.20L557.58,126.20L554.43,121.20Z" fill="#00f"/>
<path d="M551.28,120.20L557.58,120.20L554.43,125.20Z" fill="#0b0"/>
<rect x="568.29" y="166.00" width="27.71" height="2.3" fill="url(#hr2)"/>
<rect x="568.29" y="160.60" width="27.71" height="2.4" fill="url(#hb)"/>
<line x1="568.29" y1="165.90" x2="596.00" y2="165.90" stroke="#e33" stroke-width="0.7"/>
<line x1="568.29" y1="162.80" x2="596.00" y2="162.80" stroke="#3a8" stroke-width="0.7"/>
<line x1="568.29" y1="161.40" x2="568.29" y2="164.60" stroke="#5b5" stroke-width="0.7"/>
<line x1="596.00" y1="161.40" x2="596.00" y2="164.60" stroke="#5b5" stroke-width="0.7"/>
<rect x="579.84" y="163.30" width="4.60" height="4.60" fill="#f00"/>
<path d="M578.99,165.80L585.29,165.80L582.14,160.80Z" fill="#00f"/>
<path d="M578.99,159.80L585.29,159.80L582.14,164.80Z" fill="#0b0"/>
</g>
<rect x="346.6" y="210.7" width="3.3" height="70.5" fill="#bcbcbc"/>
<g clip-path="url(#cl346)">
<rect x="346.60" y="239.10" width="11.08" height="10.90" fill="url(#hb2)"/>
<line x1="346.60" y1="245.00" x2="357.68" y2="245.00" stroke="#22609a" stroke-width="1.0"/>
<line x1="346.60" y1="243.80" x2="346.60" y2="246.80" stroke="#5c5" stroke-width="0.6"/>
<line x1="357.68" y1="243.80" x2="357.68" y2="246.80" stroke="#5c5" stroke-width="0.6"/>
<line x1="352.14" y1="239.60" x2="352.14" y2="250.00" stroke="#4c4" stroke-width="0.8"/>
<line x1="350.94" y1="239.90" x2="353.34" y2="239.90" stroke="#3a6" stroke-width="1"/>
<line x1="350.94" y1="249.70" x2="353.34" y2="249.70" stroke="#3a6" stroke-width="1"/>
<path d="M348.74,248.45L355.54,248.45L352.14,243.25Z" fill="#00f"/>
<path d="M348.74,242.15L355.54,242.15L352.14,247.35Z" fill="#0b0"/>
<rect x="357.68" y="240.70" width="11.08" height="15.00" fill="url(#hb2)"/>
<line x1="357.68" y1="248.40" x2="368.77" y2="248.40" stroke="#22609a" stroke-width="1.0"/>
<line x1="357.68" y1="247.20" x2="357.68" y2="250.20" stroke="#5c5" stroke-width="0.6"/>
<line x1="368.77" y1="247.20" x2="368.77" y2="250.20" stroke="#5c5" stroke-width="0.6"/>
<line x1="363.23" y1="241.00" x2="363.23" y2="257.30" stroke="#4c4" stroke-width="0.8"/>
<line x1="362.03" y1="241.30" x2="364.43" y2="241.30" stroke="#3a6" stroke-width="1"/>
<line x1="362.03" y1="257.00" x2="364.43" y2="257.00" stroke="#3a6" stroke-width="1"/>
<path d="M359.83,251.85L366.63,251.85L363.23,246.65Z" fill="#00f"/>
<path d="M359.83,245.55L366.63,245.55L363.23,250.75Z" fill="#0b0"/>
<rect x="368.77" y="238.00" width="11.08" height="9.40" fill="url(#hb2)"/>
<line x1="368.77" y1="242.10" x2="379.85" y2="242.10" stroke="#22609a" stroke-width="1.0"/>
<line x1="368.77" y1="240.90" x2="368.77" y2="243.90" stroke="#5c5" stroke-width="0.6"/>
<line x1="379.85" y1="240.90" x2="379.85" y2="243.90" stroke="#5c5" stroke-width="0.6"/>
<line x1="374.31" y1="237.70" x2="374.31" y2="246.50" stroke="#4c4" stroke-width="0.8"/>
<line x1="373.11" y1="238.00" x2="375.51" y2="238.00" stroke="#3a6" stroke-width="1"/>
<line x1="373.11" y1="246.20" x2="375.51" y2="246.20" stroke="#3a6" stroke-width="1"/>
<path d="M370.91,245.55L377.71,245.55L374.31,240.35Z" fill="#00f"/>
<path d="M370.91,239.25L377.71,239.25L374.31,244.45Z" fill="#0b0"/>
<rect x="379.85" y="242.40" width="11.08" height="10.50" fill="url(#hb2)"/>
<line x1="379.85" y1="248.20" x2="390.94" y2="248.20" stroke="#22609a" stroke-width="1.0"/>
<line x1="379.85" y1="247.00" x2="379.85" y2="250.00" stroke="#5c5" stroke-width="0.6"/>
<line x1="390.94" y1="247.00" x2="390.94" y2="250.00" stroke="#5c5" stroke-width="0.6"/>
<line x1="385.40" y1="242.40" x2="385.40" y2="252.60" stroke="#4c4" stroke-width="0.8"/>
<line x1="384.20" y1="242.70" x2="386.60" y2="242.70" stroke="#3a6" stroke-width="1"/>
<line x1="384.20" y1="252.30" x2="386.60" y2="252.30" stroke="#3a6" stroke-width="1"/>
<path d="M382.00,251.65L388.80,251.65L385.40,246.45Z" fill="#00f"/>
<path d="M382.00,245.35L388.80,245.35L385.40,250.55Z" fill="#0b0"/>
<rect x="390.94" y="241.30" width="11.08" height="16.60" fill="url(#hb2)"/>
<line x1="390.94" y1="250.10" x2="402.02" y2="250.10" stroke="#22609a" stroke-width="1.0"/>
<line x1="390.94" y1="248.90" x2="390.94" y2="251.90" stroke="#5c5" stroke-width="0.6"/>
<line x1="402.02" y1="248.90" x2="402.02" y2="251.90" stroke="#5c5" stroke-width="0.6"/>
<line x1="396.48" y1="241.30" x2="396.48" y2="257.90" stroke="#4c4" stroke-width="0.8"/>
<line x1="395.28" y1="241.60" x2="397.68" y2="241.60" stroke="#3a6" stroke-width="1"/>
<line x1="395.28" y1="257.60" x2="397.68" y2="257.60" stroke="#3a6" stroke-width="1"/>
<path d="M393.08,253.55L399.88,253.55L396.48,248.35Z" fill="#00f"/>
<path d="M393.08,247.25L399.88,247.25L396.48,252.45Z" fill="#0b0"/>
<rect x="402.02" y="238.00" width="11.08" height="17.70" fill="url(#hb2)"/>
<line x1="402.02" y1="246.50" x2="413.11" y2="246.50" stroke="#22609a" stroke-width="1.0"/>
<line x1="402.02" y1="245.30" x2="402.02" y2="248.30" stroke="#5c5" stroke-width="0.6"/>
<line x1="413.11" y1="245.30" x2="413.11" y2="248.30" stroke="#5c5" stroke-width="0.6"/>
<line x1="407.56" y1="235.50" x2="407.56" y2="257.30" stroke="#4c4" stroke-width="0.8"/>
<line x1="406.36" y1="235.80" x2="408.76" y2="235.80" stroke="#3a6" stroke-width="1"/>
<line x1="406.36" y1="257.00" x2="408.76" y2="257.00" stroke="#3a6" stroke-width="1"/>
<path d="M404.16,249.95L410.96,249.95L407.56,244.75Z" fill="#00f"/>
<path d="M404.16,243.65L410.96,243.65L407.56,248.85Z" fill="#0b0"/>
<rect x="413.11" y="235.80" width="11.08" height="18.20" fill="url(#hb2)"/>
<line x1="413.11" y1="244.30" x2="424.19" y2="244.30" stroke="#22609a" stroke-width="1.0"/>
<line x1="413.11" y1="243.10" x2="413.11" y2="246.10" stroke="#5c5" stroke-width="0.6"/>
<line x1="424.19" y1="243.10" x2="424.19" y2="246.10" stroke="#5c5" stroke-width="0.6"/>
<line x1="418.65" y1="234.10" x2="418.65" y2="254.40" stroke="#4c4" stroke-width="0.8"/>
<line x1="417.45" y1="234.40" x2="419.85" y2="234.40" stroke="#3a6" stroke-width="1"/>
<line x1="417.45" y1="254.10" x2="419.85" y2="254.10" stroke="#3a6" stroke-width="1"/>
<path d="M415.25,247.75L422.05,247.75L418.65,242.55Z" fill="#00f"/>
<path d="M415.25,241.45L422.05,241.45L418.65,246.65Z" fill="#0b0"/>
<rect x="424.19" y="240.70" width="11.08" height="12.80" fill="url(#hb2)"/>
<line x1="424.19" y1="247.40" x2="435.28" y2="247.40" stroke="#22609a" stroke-width="1.0"/>
<line x1="424.19" y1="246.20" x2="424.19" y2="249.20" stroke="#5c5" stroke-width="0.6"/>
<line x1="435.28" y1="246.20" x2="435.28" y2="249.20" stroke="#5c5" stroke-width="0.6"/>
<line x1="429.73" y1="240.70" x2="429.73" y2="254.00" stroke="#4c4" stroke-width="0.8"/>
<line x1="428.53" y1="241.00" x2="430.93" y2="241.00" stroke="#3a6" stroke-width="1"/>
<line x1="428.53" y1="253.70" x2="430.93" y2="253.70" stroke="#3a6" stroke-width="1"/>
<path d="M426.33,250.85L433.13,250.85L429.73,245.65Z" fill="#00f"/>
<path d="M426.33,244.55L433.13,244.55L429.73,249.75Z" fill="#0b0"/>
<rect x="435.28" y="239.60" width="13.86" height="9.40" fill="url(#hb2)"/>
<line x1="435.28" y1="244.80" x2="449.13" y2="244.80" stroke="#22609a" stroke-width="1.0"/>
<line x1="435.28" y1="243.60" x2="435.28" y2="246.60" stroke="#5c5" stroke-width="0.6"/>
<line x1="449.13" y1="243.60" x2="449.13" y2="246.60" stroke="#5c5" stroke-width="0.6"/>
<line x1="442.20" y1="239.00" x2="442.20" y2="249.60" stroke="#4c4" stroke-width="0.8"/>
<line x1="441.00" y1="239.30" x2="443.40" y2="239.30" stroke="#3a6" stroke-width="1"/>
<line x1="441.00" y1="249.30" x2="443.40" y2="249.30" stroke="#3a6" stroke-width="1"/>
<path d="M438.80,248.25L445.60,248.25L442.20,243.05Z" fill="#00f"/>
<path d="M438.80,241.95L445.60,241.95L442.20,247.15Z" fill="#0b0"/>
<rect x="449.13" y="243.50" width="13.86" height="8.90" fill="url(#hb2)"/>
<line x1="449.13" y1="248.30" x2="462.99" y2="248.30" stroke="#22609a" stroke-width="1.0"/>
<line x1="449.13" y1="247.10" x2="449.13" y2="250.10" stroke="#5c5" stroke-width="0.6"/>
<line x1="462.99" y1="247.10" x2="462.99" y2="250.10" stroke="#5c5" stroke-width="0.6"/>
<line x1="456.06" y1="244.00" x2="456.06" y2="252.90" stroke="#4c4" stroke-width="0.8"/>
<line x1="454.86" y1="244.30" x2="457.26" y2="244.30" stroke="#3a6" stroke-width="1"/>
<line x1="454.86" y1="252.60" x2="457.26" y2="252.60" stroke="#3a6" stroke-width="1"/>
<path d="M452.66,251.75L459.46,251.75L456.06,246.55Z" fill="#00f"/>
<path d="M452.66,245.45L459.46,245.45L456.06,250.65Z" fill="#0b0"/>
<rect x="462.99" y="238.00" width="16.63" height="13.70" fill="url(#hb2)"/>
<line x1="462.99" y1="245.30" x2="479.61" y2="245.30" stroke="#22609a" stroke-width="1.0"/>
<line x1="462.99" y1="244.10" x2="462.99" y2="247.10" stroke="#5c5" stroke-width="0.6"/>
<line x1="479.61" y1="244.10" x2="479.61" y2="247.10" stroke="#5c5" stroke-width="0.6"/>
<line x1="471.30" y1="238.30" x2="471.30" y2="252.40" stroke="#4c4" stroke-width="0.8"/>
<line x1="470.10" y1="238.60" x2="472.50" y2="238.60" stroke="#3a6" stroke-width="1"/>
<line x1="470.10" y1="252.10" x2="472.50" y2="252.10" stroke="#3a6" stroke-width="1"/>
<path d="M467.90,248.75L474.70,248.75L471.30,243.55Z" fill="#00f"/>
<path d="M467.90,242.45L474.70,242.45L471.30,247.65Z" fill="#0b0"/>
<rect x="479.61" y="239.30" width="16.63" height="13.10" fill="url(#hb2)"/>
<line x1="479.61" y1="246.20" x2="496.24" y2="246.20" stroke="#22609a" stroke-width="1.0"/>
<line x1="479.61" y1="245.00" x2="479.61" y2="248.00" stroke="#5c5" stroke-width="0.6"/>
<line x1="496.24" y1="245.00" x2="496.24" y2="248.00" stroke="#5c5" stroke-width="0.6"/>
<line x1="487.93" y1="240.40" x2="487.93" y2="252.40" stroke="#4c4" stroke-width="0.8"/>
<line x1="486.73" y1="240.70" x2="489.13" y2="240.70" stroke="#3a6" stroke-width="1"/>
<line x1="486.73" y1="252.10" x2="489.13" y2="252.10" stroke="#3a6" stroke-width="1"/>
<path d="M484.53,249.65L491.33,249.65L487.93,244.45Z" fill="#00f"/>
<path d="M484.53,243.35L491.33,243.35L487.93,248.55Z" fill="#0b0"/>
<rect x="496.24" y="240.60" width="16.63" height="7.90" fill="url(#hb2)"/>
<line x1="496.24" y1="246.20" x2="512.87" y2="246.20" stroke="#22609a" stroke-width="1.0"/>
<line x1="496.24" y1="245.00" x2="496.24" y2="248.00" stroke="#5c5" stroke-width="0.6"/>
<line x1="512.87" y1="245.00" x2="512.87" y2="248.00" stroke="#5c5" stroke-width="0.6"/>
<line x1="504.55" y1="241.70" x2="504.55" y2="250.40" stroke="#4c4" stroke-width="0.8"/>
<line x1="503.35" y1="242.00" x2="505.75" y2="242.00" stroke="#3a6" stroke-width="1"/>
<line x1="503.35" y1="250.10" x2="505.75" y2="250.10" stroke="#3a6" stroke-width="1"/>
<path d="M501.15,249.65L507.95,249.65L504.55,244.45Z" fill="#00f"/>
<path d="M501.15,243.35L507.95,243.35L504.55,248.55Z" fill="#0b0"/>
<rect x="512.87" y="238.70" width="27.71" height="8.30" fill="url(#hb2)"/>
<line x1="512.87" y1="242.80" x2="540.58" y2="242.80" stroke="#22609a" stroke-width="1.0"/>
<line x1="512.87" y1="241.60" x2="512.87" y2="244.60" stroke="#5c5" stroke-width="0.6"/>
<line x1="540.58" y1="241.60" x2="540.58" y2="244.60" stroke="#5c5" stroke-width="0.6"/>
<line x1="526.72" y1="237.40" x2="526.72" y2="247.20" stroke="#4c4" stroke-width="0.8"/>
<line x1="525.52" y1="237.70" x2="527.92" y2="237.70" stroke="#3a6" stroke-width="1"/>
<line x1="525.52" y1="246.90" x2="527.92" y2="246.90" stroke="#3a6" stroke-width="1"/>
<path d="M523.32,246.25L530.12,246.25L526.72,241.05Z" fill="#00f"/>
<path d="M523.32,239.95L530.12,239.95L526.72,245.15Z" fill="#0b0"/>
<rect x="540.58" y="223.30" width="27.71" height="33.70" fill="url(#hg2)"/>
<rect x="540.58" y="226.50" width="27.71" height="27.90" fill="url(#hb2)"/>
<line x1="540.58" y1="241.30" x2="568.29" y2="241.30" stroke="#2a4fd0" stroke-width="0.9"/>
<line x1="540.58" y1="239.80" x2="568.29" y2="239.80" stroke="#3aa050" stroke-width="0.9"/>
<line x1="540.58" y1="238.90" x2="540.58" y2="241.90" stroke="#5c5" stroke-width="0.6"/>
<line x1="568.29" y1="238.90" x2="568.29" y2="241.90" stroke="#5c5" stroke-width="0.6"/>
<line x1="554.43" y1="224.30" x2="554.43" y2="255.70" stroke="#4c4" stroke-width="0.8"/>
<line x1="553.23" y1="224.60" x2="555.63" y2="224.60" stroke="#3a6" stroke-width="1"/>
<line x1="553.23" y1="255.40" x2="555.63" y2="255.40" stroke="#3a6" stroke-width="1"/>
<path d="M551.03,243.55L557.83,243.55L554.43,238.35Z" fill="#00f"/>
<path d="M551.03,237.25L557.83,237.25L554.43,242.45Z" fill="#0b0"/>
<rect x="568.29" y="249.70" width="27.71" height="50.30" fill="url(#hg2)"/>
<rect x="568.29" y="255.70" width="27.71" height="42.30" fill="url(#hb2)"/>
<line x1="568.29" y1="277.60" x2="596.00" y2="277.60" stroke="#2a4fd0" stroke-width="0.9"/>
<line x1="568.29" y1="275.20" x2="596.00" y2="275.20" stroke="#3aa050" stroke-width="0.9"/>
<line x1="568.29" y1="274.50" x2="568.29" y2="277.50" stroke="#5c5" stroke-width="0.6"/>
<line x1="596.00" y1="274.50" x2="596.00" y2="277.50" stroke="#5c5" stroke-width="0.6"/>
<line x1="582.14" y1="250.80" x2="582.14" y2="300.00" stroke="#4c4" stroke-width="0.8"/>
<line x1="580.94" y1="251.10" x2="583.34" y2="251.10" stroke="#3a6" stroke-width="1"/>
<line x1="580.94" y1="299.70" x2="583.34" y2="299.70" stroke="#3a6" stroke-width="1"/>
<path d="M578.74,280.60L585.54,280.60L582.14,275.40Z" fill="#00f"/>
<path d="M578.74,272.30L585.54,272.30L582.14,277.50Z" fill="#0b0"/>
</g>
<rect x="346.1" y="0" width="250.4" height="1" fill="#6a6a6a"/>
<line x1="346.6" y1="0" x2="346.6" y2="281.2" stroke="#3c3c3c" stroke-width="1.1"/>
<line x1="596.15" y1="0" x2="596.15" y2="281.2" stroke="#808080" stroke-width="1.4"/>
<line x1="346.6" y1="210.7" x2="596.0" y2="210.7" stroke="#4a4a4a" stroke-width="1.6"/>
<line x1="346.6" y1="280.9" x2="596.0" y2="280.9" stroke="#4a4a4a" stroke-width="1.2"/>
<line x1="346.6" y1="208.41" x2="350.90000000000003" y2="208.41" stroke="#4a4a4a" stroke-width="0.95"/>
<line x1="346.6" y1="203.74" x2="350.90000000000003" y2="203.74" stroke="#4a4a4a" stroke-width="0.95"/>
<line x1="346.6" y1="199.06" x2="354.8" y2="199.06" stroke="#4a4a4a" stroke-width="0.95"/>
<line x1="346.6" y1="194.38" x2="350.90000000000003" y2="194.38" stroke="#4a4a4a" stroke-width="0.95"/>
<line x1="346.6" y1="189.71" x2="350.90000000000003" y2="189.71" stroke="#4a4a4a" stroke-width="0.95"/>
<line x1="346.6" y1="185.03" x2="350.90000000000003" y2="185.03" stroke="#4a4a4a" stroke-width="0.95"/>
<line x1="346.6" y1="180.36" x2="350.90000000000003" y2="180.36" stroke="#4a4a4a" stroke-width="0.95"/>
<line x1="346.6" y1="175.68" x2="354.8" y2="175.68" stroke="#4a4a4a" stroke-width="0.95"/>
<line x1="346.6" y1="171.00" x2="350.90000000000003" y2="171.00" stroke="#4a4a4a" stroke-width="0.95"/>
<line x1="346.6" y1="166.33" x2="350.90000000000003" y2="166.33" stroke="#4a4a4a" stroke-width="0.95"/>
<line x1="346.6" y1="161.65" x2="350.90000000000003" y2="161.65" stroke="#4a4a4a" stroke-width="0.95"/>
<line x1="346.6" y1="156.98" x2="350.90000000000003" y2="156.98" stroke="#4a4a4a" stroke-width="0.95"/>
<line x1="346.6" y1="152.30" x2="354.8" y2="152.30" stroke="#4a4a4a" stroke-width="0.95"/>
<line x1="346.6" y1="147.62" x2="350.90000000000003" y2="147.62" stroke="#4a4a4a" stroke-width="0.95"/>
<line x1="346.6" y1="142.95" x2="350.90000000000003" y2="142.95" stroke="#4a4a4a" stroke-width="0.95"/>
<line x1="346.6" y1="138.27" x2="350.90000000000003" y2="138.27" stroke="#4a4a4a" stroke-width="0.95"/>
<line x1="346.6" y1="133.60" x2="350.90000000000003" y2="133.60" stroke="#4a4a4a" stroke-width="0.95"/>
<line x1="346.6" y1="128.92" x2="354.8" y2="128.92" stroke="#4a4a4a" stroke-width="0.95"/>
<line x1="346.6" y1="124.24" x2="350.90000000000003" y2="124.24" stroke="#4a4a4a" stroke-width="0.95"/>
<line x1="346.6" y1="119.57" x2="350.90000000000003" y2="119.57" stroke="#4a4a4a" stroke-width="0.95"/>
<line x1="346.6" y1="114.89" x2="350.90000000000003" y2="114.89" stroke="#4a4a4a" stroke-width="0.95"/>
<line x1="346.6" y1="110.22" x2="350.90000000000003" y2="110.22" stroke="#4a4a4a" stroke-width="0.95"/>
<line x1="346.6" y1="105.54" x2="354.8" y2="105.54" stroke="#4a4a4a" stroke-width="0.95"/>
<line x1="346.6" y1="100.86" x2="350.90000000000003" y2="100.86" stroke="#4a4a4a" stroke-width="0.95"/>
<line x1="346.6" y1="96.19" x2="350.90000000000003" y2="96.19" stroke="#4a4a4a" stroke-width="0.95"/>
<line x1="346.6" y1="91.51" x2="350.90000000000003" y2="91.51" stroke="#4a4a4a" stroke-width="0.95"/>
<line x1="346.6" y1="86.84" x2="350.90000000000003" y2="86.84" stroke="#4a4a4a" stroke-width="0.95"/>
<line x1="346.6" y1="82.16" x2="354.8" y2="82.16" stroke="#4a4a4a" stroke-width="0.95"/>
<line x1="346.6" y1="77.48" x2="350.90000000000003" y2="77.48" stroke="#4a4a4a" stroke-width="0.95"/>
<line x1="346.6" y1="72.81" x2="350.90000000000003" y2="72.81" stroke="#4a4a4a" stroke-width="0.95"/>
<line x1="346.6" y1="68.13" x2="350.90000000000003" y2="68.13" stroke="#4a4a4a" stroke-width="0.95"/>
<line x1="346.6" y1="63.46" x2="350.90000000000003" y2="63.46" stroke="#4a4a4a" stroke-width="0.95"/>
<line x1="346.6" y1="58.78" x2="354.8" y2="58.78" stroke="#4a4a4a" stroke-width="0.95"/>
<line x1="346.6" y1="54.10" x2="350.90000000000003" y2="54.10" stroke="#4a4a4a" stroke-width="0.95"/>
<line x1="346.6" y1="49.43" x2="350.90000000000003" y2="49.43" stroke="#4a4a4a" stroke-width="0.95"/>
<line x1="346.6" y1="44.75" x2="350.90000000000003" y2="44.75" stroke="#4a4a4a" stroke-width="0.95"/>
<line x1="346.6" y1="40.08" x2="350.90000000000003" y2="40.08" stroke="#4a4a4a" stroke-width="0.95"/>
<line x1="346.6" y1="35.40" x2="354.8" y2="35.40" stroke="#4a4a4a" stroke-width="0.95"/>
<line x1="346.6" y1="30.72" x2="350.90000000000003" y2="30.72" stroke="#4a4a4a" stroke-width="0.95"/>
<line x1="346.6" y1="26.05" x2="350.90000000000003" y2="26.05" stroke="#4a4a4a" stroke-width="0.95"/>
<line x1="346.6" y1="21.37" x2="350.90000000000003" y2="21.37" stroke="#4a4a4a" stroke-width="0.95"/>
<line x1="346.6" y1="16.70" x2="350.90000000000003" y2="16.70" stroke="#4a4a4a" stroke-width="0.95"/>
<line x1="346.6" y1="12.02" x2="354.8" y2="12.02" stroke="#4a4a4a" stroke-width="0.95"/>
<line x1="346.6" y1="7.34" x2="350.90000000000003" y2="7.34" stroke="#4a4a4a" stroke-width="0.95"/>
<line x1="346.6" y1="2.67" x2="350.90000000000003" y2="2.67" stroke="#4a4a4a" stroke-width="0.95"/>
<line x1="352.14" y1="210.7" x2="352.14" y2="208.29999999999998" stroke="#4a4a4a" stroke-width="0.9"/>
<line x1="357.68" y1="210.7" x2="357.68" y2="208.29999999999998" stroke="#4a4a4a" stroke-width="0.9"/>
<line x1="363.23" y1="210.7" x2="363.23" y2="208.29999999999998" stroke="#4a4a4a" stroke-width="0.9"/>
<line x1="368.77" y1="210.7" x2="368.77" y2="208.29999999999998" stroke="#4a4a4a" stroke-width="0.9"/>
<line x1="374.31" y1="210.7" x2="374.31" y2="205.7" stroke="#4a4a4a" stroke-width="0.9"/>
<line x1="379.85" y1="210.7" x2="379.85" y2="208.29999999999998" stroke="#4a4a4a" stroke-width="0.9"/>
<line x1="385.40" y1="210.7" x2="385.40" y2="208.29999999999998" stroke="#4a4a4a" stroke-width="0.9"/>
<line x1="390.94" y1="210.7" x2="390.94" y2="208.29999999999998" stroke="#4a4a4a" stroke-width="0.9"/>
<line x1="396.48" y1="210.7" x2="396.48" y2="208.29999999999998" stroke="#4a4a4a" stroke-width="0.9"/>
<line x1="402.02" y1="210.7" x2="402.02" y2="205.7" stroke="#4a4a4a" stroke-width="0.9"/>
<line x1="407.56" y1="210.7" x2="407.56" y2="208.29999999999998" stroke="#4a4a4a" stroke-width="0.9"/>
<line x1="413.11" y1="210.7" x2="413.11" y2="208.29999999999998" stroke="#4a4a4a" stroke-width="0.9"/>
<line x1="418.65" y1="210.7" x2="418.65" y2="208.29999999999998" stroke="#4a4a4a" stroke-width="0.9"/>
<line x1="424.19" y1="210.7" x2="424.19" y2="208.29999999999998" stroke="#4a4a4a" stroke-width="0.9"/>
<line x1="429.73" y1="210.7" x2="429.73" y2="205.7" stroke="#4a4a4a" stroke-width="0.9"/>
<line x1="435.28" y1="210.7" x2="435.28" y2="208.29999999999998" stroke="#4a4a4a" stroke-width="0.9"/>
<line x1="440.82" y1="210.7" x2="440.82" y2="208.29999999999998" stroke="#4a4a4a" stroke-width="0.9"/>
<line x1="446.36" y1="210.7" x2="446.36" y2="208.29999999999998" stroke="#4a4a4a" stroke-width="0.9"/>
<line x1="451.90" y1="210.7" x2="451.90" y2="208.29999999999998" stroke="#4a4a4a" stroke-width="0.9"/>
<line x1="457.44" y1="210.7" x2="457.44" y2="205.7" stroke="#4a4a4a" stroke-width="0.9"/>
<line x1="462.99" y1="210.7" x2="462.99" y2="208.29999999999998" stroke="#4a4a4a" stroke-width="0.9"/>
<line x1="468.53" y1="210.7" x2="468.53" y2="208.29999999999998" stroke="#4a4a4a" stroke-width="0.9"/>
<line x1="474.07" y1="210.7" x2="474.07" y2="208.29999999999998" stroke="#4a4a4a" stroke-width="0.9"/>
<line x1="479.61" y1="210.7" x2="479.61" y2="208.29999999999998" stroke="#4a4a4a" stroke-width="0.9"/>
<line x1="485.16" y1="210.7" x2="485.16" y2="205.7" stroke="#4a4a4a" stroke-width="0.9"/>
<line x1="490.70" y1="210.7" x2="490.70" y2="208.29999999999998" stroke="#4a4a4a" stroke-width="0.9"/>
<line x1="496.24" y1="210.7" x2="496.24" y2="208.29999999999998" stroke="#4a4a4a" stroke-width="0.9"/>
<line x1="501.78" y1="210.7" x2="501.78" y2="208.29999999999998" stroke="#4a4a4a" stroke-width="0.9"/>
<line x1="507.32" y1="210.7" x2="507.32" y2="208.29999999999998" stroke="#4a4a4a" stroke-width="0.9"/>
<line x1="512.87" y1="210.7" x2="512.87" y2="205.7" stroke="#4a4a4a" stroke-width="0.9"/>
<line x1="518.41" y1="210.7" x2="518.41" y2="208.29999999999998" stroke="#4a4a4a" stroke-width="0.9"/>
<line x1="523.95" y1="210.7" x2="523.95" y2="208.29999999999998" stroke="#4a4a4a" stroke-width="0.9"/>
<line x1="529.49" y1="210.7" x2="529.49" y2="208.29999999999998" stroke="#4a4a4a" stroke-width="0.9"/>
<line x1="535.04" y1="210.7" x2="535.04" y2="208.29999999999998" stroke="#4a4a4a" stroke-width="0.9"/>
<line x1="540.58" y1="210.7" x2="540.58" y2="205.7" stroke="#4a4a4a" stroke-width="0.9"/>
<line x1="546.12" y1="210.7" x2="546.12" y2="208.29999999999998" stroke="#4a4a4a" stroke-width="0.9"/>
<line x1="551.66" y1="210.7" x2="551.66" y2="208.29999999999998" stroke="#4a4a4a" stroke-width="0.9"/>
<line x1="557.20" y1="210.7" x2="557.20" y2="208.29999999999998" stroke="#4a4a4a" stroke-width="0.9"/>
<line x1="562.75" y1="210.7" x2="562.75" y2="208.29999999999998" stroke="#4a4a4a" stroke-width="0.9"/>
<line x1="568.29" y1="210.7" x2="568.29" y2="205.7" stroke="#4a4a4a" stroke-width="0.9"/>
<line x1="573.83" y1="210.7" x2="573.83" y2="208.29999999999998" stroke="#4a4a4a" stroke-width="0.9"/>
<line x1="579.37" y1="210.7" x2="579.37" y2="208.29999999999998" stroke="#4a4a4a" stroke-width="0.9"/>
<line x1="584.92" y1="210.7" x2="584.92" y2="208.29999999999998" stroke="#4a4a4a" stroke-width="0.9"/>
<line x1="590.46" y1="210.7" x2="590.46" y2="208.29999999999998" stroke="#4a4a4a" stroke-width="0.9"/>
<line x1="352.14" y1="281.2" x2="352.14" y2="279.7" stroke="#4a4a4a" stroke-width="0.9"/>
<line x1="357.68" y1="281.2" x2="357.68" y2="279.7" stroke="#4a4a4a" stroke-width="0.9"/>
<line x1="363.23" y1="281.2" x2="363.23" y2="279.7" stroke="#4a4a4a" stroke-width="0.9"/>
<line x1="368.77" y1="281.2" x2="368.77" y2="279.7" stroke="#4a4a4a" stroke-width="0.9"/>
<line x1="374.31" y1="281.2" x2="374.31" y2="278.4" stroke="#4a4a4a" stroke-width="0.9"/>
<line x1="379.85" y1="281.2" x2="379.85" y2="279.7" stroke="#4a4a4a" stroke-width="0.9"/>
<line x1="385.40" y1="281.2" x2="385.40" y2="279.7" stroke="#4a4a4a" stroke-width="0.9"/>
<line x1="390.94" y1="281.2" x2="390.94" y2="279.7" stroke="#4a4a4a" stroke-width="0.9"/>
<line x1="396.48" y1="281.2" x2="396.48" y2="279.7" stroke="#4a4a4a" stroke-width="0.9"/>
<line x1="402.02" y1="281.2" x2="402.02" y2="278.4" stroke="#4a4a4a" stroke-width="0.9"/>
<line x1="407.56" y1="281.2" x2="407.56" y2="279.7" stroke="#4a4a4a" stroke-width="0.9"/>
<line x1="413.11" y1="281.2" x2="413.11" y2="279.7" stroke="#4a4a4a" stroke-width="0.9"/>
<line x1="418.65" y1="281.2" x2="418.65" y2="279.7" stroke="#4a4a4a" stroke-width="0.9"/>
<line x1="424.19" y1="281.2" x2="424.19" y2="279.7" stroke="#4a4a4a" stroke-width="0.9"/>
<line x1="429.73" y1="281.2" x2="429.73" y2="278.4" stroke="#4a4a4a" stroke-width="0.9"/>
<line x1="435.28" y1="281.2" x2="435.28" y2="279.7" stroke="#4a4a4a" stroke-width="0.9"/>
<line x1="440.82" y1="281.2" x2="440.82" y2="279.7" stroke="#4a4a4a" stroke-width="0.9"/>
<line x1="446.36" y1="281.2" x2="446.36" y2="279.7" stroke="#4a4a4a" stroke-width="0.9"/>
<line x1="451.90" y1="281.2" x2="451.90" y2="279.7" stroke="#4a4a4a" stroke-width="0.9"/>
<line x1="457.44" y1="281.2" x2="457.44" y2="278.4" stroke="#4a4a4a" stroke-width="0.9"/>
<line x1="462.99" y1="281.2" x2="462.99" y2="279.7" stroke="#4a4a4a" stroke-width="0.9"/>
<line x1="468.53" y1="281.2" x2="468.53" y2="279.7" stroke="#4a4a4a" stroke-width="0.9"/>
<line x1="474.07" y1="281.2" x2="474.07" y2="279.7" stroke="#4a4a4a" stroke-width="0.9"/>
<line x1="479.61" y1="281.2" x2="479.61" y2="279.7" stroke="#4a4a4a" stroke-width="0.9"/>
<line x1="485.16" y1="281.2" x2="485.16" y2="278.4" stroke="#4a4a4a" stroke-width="0.9"/>
<line x1="490.70" y1="281.2" x2="490.70" y2="279.7" stroke="#4a4a4a" stroke-width="0.9"/>
<line x1="496.24" y1="281.2" x2="496.24" y2="279.7" stroke="#4a4a4a" stroke-width="0.9"/>
<line x1="501.78" y1="281.2" x2="501.78" y2="279.7" stroke="#4a4a4a" stroke-width="0.9"/>
<line x1="507.32" y1="281.2" x2="507.32" y2="279.7" stroke="#4a4a4a" stroke-width="0.9"/>
<line x1="512.87" y1="281.2" x2="512.87" y2="278.4" stroke="#4a4a4a" stroke-width="0.9"/>
<line x1="518.41" y1="281.2" x2="518.41" y2="279.7" stroke="#4a4a4a" stroke-width="0.9"/>
<line x1="523.95" y1="281.2" x2="523.95" y2="279.7" stroke="#4a4a4a" stroke-width="0.9"/>
<line x1="529.49" y1="281.2" x2="529.49" y2="279.7" stroke="#4a4a4a" stroke-width="0.9"/>
<line x1="535.04" y1="281.2" x2="535.04" y2="279.7" stroke="#4a4a4a" stroke-width="0.9"/>
<line x1="540.58" y1="281.2" x2="540.58" y2="278.4" stroke="#4a4a4a" stroke-width="0.9"/>
<line x1="546.12" y1="281.2" x2="546.12" y2="279.7" stroke="#4a4a4a" stroke-width="0.9"/>
<line x1="551.66" y1="281.2" x2="551.66" y2="279.7" stroke="#4a4a4a" stroke-width="0.9"/>
<line x1="557.20" y1="281.2" x2="557.20" y2="279.7" stroke="#4a4a4a" stroke-width="0.9"/>
<line x1="562.75" y1="281.2" x2="562.75" y2="279.7" stroke="#4a4a4a" stroke-width="0.9"/>
<line x1="568.29" y1="281.2" x2="568.29" y2="278.4" stroke="#4a4a4a" stroke-width="0.9"/>
<line x1="573.83" y1="281.2" x2="573.83" y2="279.7" stroke="#4a4a4a" stroke-width="0.9"/>
<line x1="579.37" y1="281.2" x2="579.37" y2="279.7" stroke="#4a4a4a" stroke-width="0.9"/>
<line x1="584.92" y1="281.2" x2="584.92" y2="279.7" stroke="#4a4a4a" stroke-width="0.9"/>
<line x1="590.46" y1="281.2" x2="590.46" y2="279.7" stroke="#4a4a4a" stroke-width="0.9"/>
<line x1="346.6" y1="276.58" x2="353.1" y2="276.58" stroke="#6a6a6a" stroke-width="0.85"/>
<line x1="346.6" y1="268.91" x2="353.1" y2="268.91" stroke="#6a6a6a" stroke-width="0.85"/>
<line x1="346.6" y1="261.24" x2="353.1" y2="261.24" stroke="#6a6a6a" stroke-width="0.85"/>
<line x1="346.6" y1="253.57" x2="353.1" y2="253.57" stroke="#6a6a6a" stroke-width="0.85"/>
<line x1="346.6" y1="245.90" x2="353.1" y2="245.90" stroke="#6a6a6a" stroke-width="0.85"/>
<line x1="346.6" y1="238.23" x2="353.1" y2="238.23" stroke="#6a6a6a" stroke-width="0.85"/>
<line x1="346.6" y1="230.56" x2="353.1" y2="230.56" stroke="#6a6a6a" stroke-width="0.85"/>
<line x1="346.6" y1="222.89" x2="353.1" y2="222.89" stroke="#6a6a6a" stroke-width="0.85"/>
<line x1="346.6" y1="215.22" x2="353.1" y2="215.22" stroke="#6a6a6a" stroke-width="0.85"/>
<line x1="346.6" y1="272.75" x2="351.0" y2="272.75" stroke="#999" stroke-width="0.8"/>
<line x1="346.6" y1="265.07" x2="351.0" y2="265.07" stroke="#999" stroke-width="0.8"/>
<line x1="346.6" y1="257.41" x2="351.0" y2="257.41" stroke="#999" stroke-width="0.8"/>
<line x1="346.6" y1="249.74" x2="351.0" y2="249.74" stroke="#999" stroke-width="0.8"/>
<line x1="346.6" y1="242.07" x2="351.0" y2="242.07" stroke="#999" stroke-width="0.8"/>
<line x1="346.6" y1="234.40" x2="351.0" y2="234.40" stroke="#999" stroke-width="0.8"/>
<line x1="346.6" y1="226.72" x2="351.0" y2="226.72" stroke="#999" stroke-width="0.8"/>
<line x1="346.6" y1="219.06" x2="351.0" y2="219.06" stroke="#999" stroke-width="0.8"/>
<text x="345.00" y="202.06" font-size="8.3" text-anchor="end">−0.2</text>
<text x="345.00" y="178.68" font-size="8.3" text-anchor="end">−0.1</text>
<text x="345.00" y="155.30" font-size="8.3" text-anchor="end">0</text>
<text x="345.00" y="131.92" font-size="8.3" text-anchor="end">0.1</text>
<text x="345.00" y="108.54" font-size="8.3" text-anchor="end">0.2</text>
<text x="345.00" y="85.16" font-size="8.3" text-anchor="end">0.3</text>
<text x="345.00" y="61.78" font-size="8.3" text-anchor="end">0.4</text>
<text x="345.00" y="38.40" font-size="8.3" text-anchor="end">0.5</text>
<text x="345.00" y="15.02" font-size="8.3" text-anchor="end">0.6</text>
<text x="346.60" y="218.0" font-size="7.5" text-anchor="middle">0</text>
<text x="374.31" y="218.0" font-size="7.5" text-anchor="middle">0.5</text>
<text x="402.02" y="218.0" font-size="7.5" text-anchor="middle">1</text>
<text x="429.73" y="218.0" font-size="7.5" text-anchor="middle">1.5</text>
<text x="457.44" y="218.0" font-size="7.5" text-anchor="middle">2</text>
<text x="485.16" y="218.0" font-size="7.5" text-anchor="middle">2.5</text>
<text x="512.87" y="218.0" font-size="7.5" text-anchor="middle">3</text>
<text x="540.58" y="218.0" font-size="7.5" text-anchor="middle">3.5</text>
<text x="568.29" y="218.0" font-size="7.5" text-anchor="middle">4</text>
<text x="596.00" y="218.0" font-size="7.5" text-anchor="middle">4.5</text>
<text x="345.00" y="279.48" font-size="8.2" text-anchor="end">0.8</text>
<text x="345.00" y="271.81" font-size="8.2" text-anchor="end">0.85</text>
<text x="345.00" y="264.14" font-size="8.2" text-anchor="end">0.9</text>
<text x="345.00" y="256.47" font-size="8.2" text-anchor="end">0.95</text>
<text x="345.00" y="248.80" font-size="8.2" text-anchor="end">1</text>
<text x="345.00" y="241.13" font-size="8.2" text-anchor="end">1.05</text>
<text x="345.00" y="233.46" font-size="8.2" text-anchor="end">1.1</text>
<text x="345.00" y="225.79" font-size="8.2" text-anchor="end">1.15</text>
<text x="345.00" y="218.12" font-size="8.2" text-anchor="end">1.2</text>
<text x="346.60" y="291.3" font-size="10" text-anchor="middle">0</text>
<text x="374.31" y="291.3" font-size="10" text-anchor="middle">0.5</text>
<text x="402.02" y="291.3" font-size="10" text-anchor="middle">1</text>
<text x="429.73" y="291.3" font-size="10" text-anchor="middle">1.5</text>
<text x="457.44" y="291.3" font-size="10" text-anchor="middle">2</text>
<text x="485.16" y="291.3" font-size="10" text-anchor="middle">2.5</text>
<text x="512.87" y="291.3" font-size="10" text-anchor="middle">3</text>
<text x="540.58" y="291.3" font-size="10" text-anchor="middle">3.5</text>
<text x="568.29" y="291.3" font-size="10" text-anchor="middle">4</text>
<text x="596.00" y="291.3" font-size="10" text-anchor="middle">4.5</text>
<text x="587.70" y="300.3" font-size="11.2">η<tspan font-size="8" dy="6.3">l</tspan></text>
<text transform="translate(326.60,278.2) rotate(-90)" font-size="10.1">Ratio to NNLO</text>
<text transform="translate(325.30,12.8) rotate(-90)" font-size="11">A<tspan font-size="7.5" dy="3">η</tspan><tspan font-size="5.5" dy="2">l</tspan></text>
<text x="364.50" y="20.0" font-size="8.5" font-weight="bold"><tspan font-style="italic">pp</tspan> collisions <tspan stroke-width="0.3" fill="#333" stroke="#333">@</tspan></text>
<text x="435.50" y="20.0" font-size="8.5" font-weight="bold"><tspan font-style="italic">s</tspan> = 14 TeV</text>
<line x1="432.20" y1="15.0" x2="433.40" y2="20.4" stroke="#333" stroke-width="1.0"/>
<line x1="433.90" y1="13.4" x2="440.60" y2="13.4" stroke="#ccc" stroke-width="0.6"/>
<text x="369.00" y="38.4" font-size="7.3" font-weight="bold">NNPDF3.1 LUXqed PDF (NNLO)</text>
<rect x="498.20" y="6.80" width="12" height="11.6" fill="url(#hr)"/>
<line x1="498.20" y1="12.70" x2="510.20" y2="12.70" stroke="#f66" stroke-width="0.7"/>
<rect x="501.80" y="10.10" width="5.3" height="5.4" fill="#f00"/>
<text x="511.90" y="15.90" font-size="7.85">NNLO QCD</text>
<rect x="498.20" y="23.20" width="12" height="10" fill="url(#hb)"/>
<line x1="498.20" y1="28.50" x2="510.20" y2="28.50" stroke="#33f" stroke-width="0.7"/>
<path d="M500.70,30.90L507.30,30.90L504.00,25.70Z" fill="#00f"/>
<text x="511.90" y="31.50" font-size="7.85">NNLO QCD+NLO EW</text>
<rect x="498.20" y="39.00" width="12" height="9.4" fill="url(#hg)"/>
<line x1="498.20" y1="43.40" x2="510.20" y2="43.40" stroke="#7c7" stroke-width="0.7"/>
<path d="M500.70,40.30L507.30,40.30L504.00,46.30Z" fill="#0b0"/>
<text x="511.90" y="46.80" font-size="7.85">NNLO QCD×NLO EW</text>
</g>
</svg>
</body></html>
